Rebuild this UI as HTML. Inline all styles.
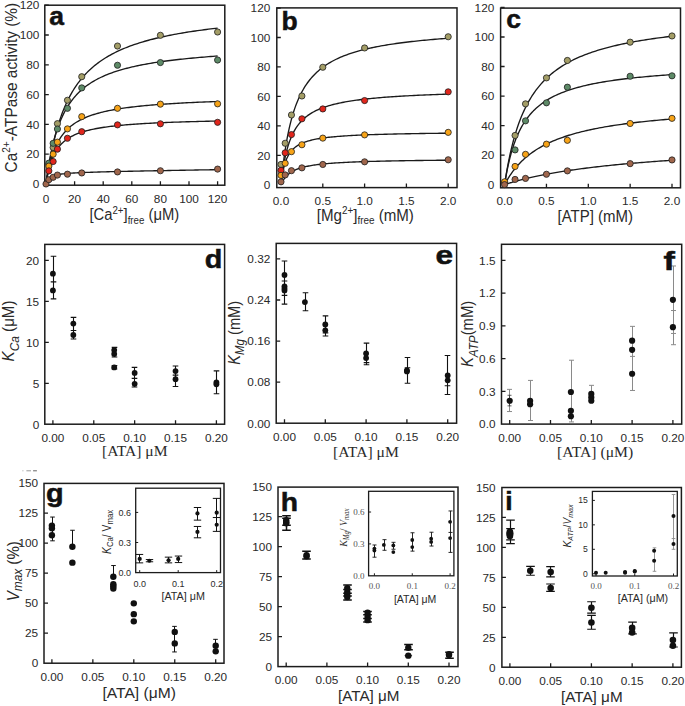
<!DOCTYPE html>
<html><head><meta charset="utf-8"><style>
html,body{margin:0;padding:0;background:#fff;}
svg{display:block;}
</style></head><body>
<svg width="685" height="706" viewBox="0 0 685 706">
<rect width="685" height="706" fill="#fff"/>
<rect x="44.8" y="5.2" width="180" height="180" fill="none" stroke="#1c1c1c" stroke-width="1.5"/>
<path d="M74.6 185.2V181.2M103.2 185.2V181.2M131.8 185.2V181.2M160.4 185.2V181.2M189 185.2V181.2M217.6 185.2V181.2M44.8 154.2H48.8M44.8 124.4H48.8M44.8 94.6H48.8M44.8 64.8H48.8M44.8 35H48.8M44.8 5.2H48.8" stroke="#1c1c1c" stroke-width="1.3" fill="none"/>
<text x="39.4" y="188.2" font-family='"Liberation Sans", sans-serif' font-size="11.8" text-anchor="end" font-weight="normal" font-style="normal" fill="#2a2a2a">0</text>
<text x="39.4" y="158.4" font-family='"Liberation Sans", sans-serif' font-size="11.8" text-anchor="end" font-weight="normal" font-style="normal" fill="#2a2a2a">20</text>
<text x="39.4" y="128.6" font-family='"Liberation Sans", sans-serif' font-size="11.8" text-anchor="end" font-weight="normal" font-style="normal" fill="#2a2a2a">40</text>
<text x="39.4" y="98.8" font-family='"Liberation Sans", sans-serif' font-size="11.8" text-anchor="end" font-weight="normal" font-style="normal" fill="#2a2a2a">60</text>
<text x="39.4" y="69" font-family='"Liberation Sans", sans-serif' font-size="11.8" text-anchor="end" font-weight="normal" font-style="normal" fill="#2a2a2a">80</text>
<text x="39.4" y="39.2" font-family='"Liberation Sans", sans-serif' font-size="11.8" text-anchor="end" font-weight="normal" font-style="normal" fill="#2a2a2a">100</text>
<text x="39.4" y="9.4" font-family='"Liberation Sans", sans-serif' font-size="11.8" text-anchor="end" font-weight="normal" font-style="normal" fill="#2a2a2a">120</text>
<text x="46" y="202.6" font-family='"Liberation Sans", sans-serif' font-size="11.8" text-anchor="middle" font-weight="normal" font-style="normal" fill="#2a2a2a">0</text>
<text x="74.6" y="202.6" font-family='"Liberation Sans", sans-serif' font-size="11.8" text-anchor="middle" font-weight="normal" font-style="normal" fill="#2a2a2a">20</text>
<text x="103.2" y="202.6" font-family='"Liberation Sans", sans-serif' font-size="11.8" text-anchor="middle" font-weight="normal" font-style="normal" fill="#2a2a2a">40</text>
<text x="131.8" y="202.6" font-family='"Liberation Sans", sans-serif' font-size="11.8" text-anchor="middle" font-weight="normal" font-style="normal" fill="#2a2a2a">60</text>
<text x="160.4" y="202.6" font-family='"Liberation Sans", sans-serif' font-size="11.8" text-anchor="middle" font-weight="normal" font-style="normal" fill="#2a2a2a">80</text>
<text x="189" y="202.6" font-family='"Liberation Sans", sans-serif' font-size="11.8" text-anchor="middle" font-weight="normal" font-style="normal" fill="#2a2a2a">100</text>
<text x="217.6" y="202.6" font-family='"Liberation Sans", sans-serif' font-size="11.8" text-anchor="middle" font-weight="normal" font-style="normal" fill="#2a2a2a">120</text>
<polyline points="46,184 46.08,183.42 46.25,182.24 46.47,180.66 46.74,178.77 47.06,176.61 47.42,174.25 47.82,171.71 48.25,169.03 48.72,166.23 49.22,163.35 49.75,160.4 50.31,157.4 50.9,154.37 51.52,151.32 52.16,148.28 52.83,145.23 53.53,142.21 54.25,139.22 54.99,136.25 55.76,133.33 56.55,130.45 57.37,127.62 58.21,124.85 59.07,122.13 59.95,119.46 60.85,116.86 61.78,114.31 62.72,111.83 63.69,109.41 64.67,107.04 65.68,104.74 66.7,102.5 67.75,100.32 68.81,98.2 69.9,96.13 71,94.12 72.12,92.17 73.26,90.27 74.41,88.43 75.59,86.64 76.78,84.9 77.99,83.2 79.22,81.56 80.46,79.96 81.72,78.41 83,76.9 84.3,75.44 85.61,74.01 86.94,72.63 88.28,71.28 89.65,69.98 91.02,68.71 92.42,67.47 93.83,66.27 95.25,65.1 96.69,63.97 98.15,62.87 99.62,61.79 101.1,60.75 102.61,59.73 104.12,58.74 105.66,57.78 107.2,56.84 108.76,55.93 110.34,55.04 111.93,54.17 113.54,53.33 115.16,52.51 116.79,51.71 118.44,50.93 120.1,50.17 121.78,49.42 123.47,48.7 125.18,48 126.9,47.31 128.63,46.64 130.37,45.98 132.13,45.34 133.91,44.72 135.7,44.11 137.5,43.52 139.31,42.94 141.14,42.37 142.98,41.82 144.83,41.27 146.7,40.75 148.58,40.23 150.47,39.72 152.38,39.23 154.3,38.75 156.23,38.27 158.17,37.81 160.13,37.36 162.1,36.92 164.08,36.49 166.08,36.06 168.08,35.65 170.1,35.24 172.14,34.85 174.18,34.46 176.24,34.08 178.31,33.7 180.39,33.34 182.48,32.98 184.59,32.63 186.71,32.29 188.84,31.95 190.98,31.62 193.13,31.29 195.3,30.98 197.48,30.66 199.67,30.36 201.87,30.06 204.08,29.77 206.3,29.48 208.54,29.19 210.79,28.92 213.05,28.64 215.32,28.38 217.6,28.11" fill="none" stroke="#1a1a1a" stroke-width="1.35" stroke-linejoin="round"/>
<polyline points="46,184 46.08,183.36 46.25,182.08 46.47,180.38 46.74,178.34 47.06,176.05 47.42,173.56 47.82,170.91 48.25,168.14 48.72,165.29 49.22,162.38 49.75,159.44 50.31,156.49 50.9,153.54 51.52,150.61 52.16,147.71 52.83,144.86 53.53,142.06 54.25,139.31 54.99,136.63 55.76,134.01 56.55,131.46 57.37,128.98 58.21,126.57 59.07,124.24 59.95,121.98 60.85,119.79 61.78,117.67 62.72,115.62 63.69,113.63 64.67,111.72 65.68,109.87 66.7,108.08 67.75,106.36 68.81,104.69 69.9,103.08 71,101.53 72.12,100.03 73.26,98.58 74.41,97.19 75.59,95.84 76.78,94.54 77.99,93.28 79.22,92.06 80.46,90.89 81.72,89.75 83,88.66 84.3,87.6 85.61,86.57 86.94,85.58 88.28,84.62 89.65,83.7 91.02,82.8 92.42,81.93 93.83,81.09 95.25,80.27 96.69,79.49 98.15,78.72 99.62,77.98 101.1,77.26 102.61,76.56 104.12,75.89 105.66,75.23 107.2,74.6 108.76,73.98 110.34,73.38 111.93,72.8 113.54,72.23 115.16,71.68 116.79,71.15 118.44,70.63 120.1,70.13 121.78,69.64 123.47,69.16 125.18,68.7 126.9,68.24 128.63,67.8 130.37,67.38 132.13,66.96 133.91,66.55 135.7,66.16 137.5,65.77 139.31,65.4 141.14,65.03 142.98,64.67 144.83,64.32 146.7,63.98 148.58,63.65 150.47,63.33 152.38,63.01 154.3,62.7 156.23,62.4 158.17,62.11 160.13,61.82 162.1,61.54 164.08,61.27 166.08,61 168.08,60.74 170.1,60.48 172.14,60.23 174.18,59.99 176.24,59.75 178.31,59.51 180.39,59.28 182.48,59.06 184.59,58.84 186.71,58.62 188.84,58.41 190.98,58.21 193.13,58.01 195.3,57.81 197.48,57.61 199.67,57.42 201.87,57.24 204.08,57.06 206.3,56.88 208.54,56.7 210.79,56.53 213.05,56.36 215.32,56.2 217.6,56.04" fill="none" stroke="#1a1a1a" stroke-width="1.35" stroke-linejoin="round"/>
<polyline points="46,184 46.08,183.47 46.25,182.4 46.47,180.99 46.74,179.33 47.06,177.47 47.42,175.47 47.82,173.36 48.25,171.2 48.72,168.99 49.22,166.77 49.75,164.55 50.31,162.35 50.9,160.18 51.52,158.06 52.16,155.99 52.83,153.97 53.53,152.01 54.25,150.11 54.99,148.28 55.76,146.51 56.55,144.81 57.37,143.17 58.21,141.59 59.07,140.08 59.95,138.63 60.85,137.24 61.78,135.9 62.72,134.62 63.69,133.39 64.67,132.21 65.68,131.08 66.7,130 67.75,128.96 68.81,127.96 69.9,127 71,126.09 72.12,125.21 73.26,124.36 74.41,123.55 75.59,122.77 76.78,122.03 77.99,121.31 79.22,120.61 80.46,119.95 81.72,119.31 83,118.69 84.3,118.1 85.61,117.53 86.94,116.98 88.28,116.45 89.65,115.94 91.02,115.45 92.42,114.97 93.83,114.51 95.25,114.07 96.69,113.64 98.15,113.23 99.62,112.83 101.1,112.45 102.61,112.07 104.12,111.71 105.66,111.36 107.2,111.02 108.76,110.7 110.34,110.38 111.93,110.07 113.54,109.77 115.16,109.48 116.79,109.2 118.44,108.93 120.1,108.67 121.78,108.41 123.47,108.16 125.18,107.92 126.9,107.69 128.63,107.46 130.37,107.24 132.13,107.02 133.91,106.81 135.7,106.61 137.5,106.41 139.31,106.22 141.14,106.03 142.98,105.85 144.83,105.67 146.7,105.49 148.58,105.32 150.47,105.16 152.38,105 154.3,104.84 156.23,104.69 158.17,104.54 160.13,104.39 162.1,104.25 164.08,104.11 166.08,103.98 168.08,103.84 170.1,103.72 172.14,103.59 174.18,103.47 176.24,103.34 178.31,103.23 180.39,103.11 182.48,103 184.59,102.89 186.71,102.78 188.84,102.68 190.98,102.57 193.13,102.47 195.3,102.37 197.48,102.28 199.67,102.18 201.87,102.09 204.08,102 206.3,101.91 208.54,101.82 210.79,101.74 213.05,101.65 215.32,101.57 217.6,101.49" fill="none" stroke="#1a1a1a" stroke-width="1.35" stroke-linejoin="round"/>
<polyline points="46,184 46.08,183.48 46.25,182.45 46.47,181.09 46.74,179.5 47.06,177.75 47.42,175.89 47.82,173.96 48.25,172 48.72,170.03 49.22,168.08 49.75,166.16 50.31,164.28 50.9,162.46 51.52,160.69 52.16,158.99 52.83,157.36 53.53,155.79 54.25,154.29 54.99,152.86 55.76,151.49 56.55,150.19 57.37,148.95 58.21,147.77 59.07,146.64 59.95,145.57 60.85,144.55 61.78,143.59 62.72,142.66 63.69,141.79 64.67,140.95 65.68,140.16 66.7,139.4 67.75,138.67 68.81,137.99 69.9,137.33 71,136.7 72.12,136.1 73.26,135.53 74.41,134.98 75.59,134.46 76.78,133.96 77.99,133.48 79.22,133.03 80.46,132.59 81.72,132.17 83,131.76 84.3,131.38 85.61,131 86.94,130.65 88.28,130.3 89.65,129.97 91.02,129.66 92.42,129.35 93.83,129.06 95.25,128.78 96.69,128.5 98.15,128.24 99.62,127.99 101.1,127.74 102.61,127.51 104.12,127.28 105.66,127.06 107.2,126.85 108.76,126.64 110.34,126.45 111.93,126.25 113.54,126.07 115.16,125.89 116.79,125.71 118.44,125.54 120.1,125.38 121.78,125.22 123.47,125.07 125.18,124.92 126.9,124.78 128.63,124.63 130.37,124.5 132.13,124.37 133.91,124.24 135.7,124.11 137.5,123.99 139.31,123.87 141.14,123.76 142.98,123.65 144.83,123.54 146.7,123.43 148.58,123.33 150.47,123.23 152.38,123.13 154.3,123.04 156.23,122.94 158.17,122.85 160.13,122.76 162.1,122.68 164.08,122.59 166.08,122.51 168.08,122.43 170.1,122.36 172.14,122.28 174.18,122.2 176.24,122.13 178.31,122.06 180.39,121.99 182.48,121.92 184.59,121.86 186.71,121.79 188.84,121.73 190.98,121.67 193.13,121.61 195.3,121.55 197.48,121.49 199.67,121.43 201.87,121.38 204.08,121.32 206.3,121.27 208.54,121.22 210.79,121.17 213.05,121.12 215.32,121.07 217.6,121.02" fill="none" stroke="#1a1a1a" stroke-width="1.35" stroke-linejoin="round"/>
<polyline points="46,184 46.08,183.74 46.25,183.23 46.47,182.61 46.74,181.94 47.06,181.25 47.42,180.59 47.82,179.95 48.25,179.36 48.72,178.81 49.22,178.3 49.75,177.84 50.31,177.42 50.9,177.03 51.52,176.68 52.16,176.36 52.83,176.07 53.53,175.8 54.25,175.56 54.99,175.33 55.76,175.12 56.55,174.93 57.37,174.75 58.21,174.59 59.07,174.44 59.95,174.29 60.85,174.16 61.78,174.04 62.72,173.92 63.69,173.81 64.67,173.7 65.68,173.6 66.7,173.51 67.75,173.42 68.81,173.34 69.9,173.26 71,173.18 72.12,173.11 73.26,173.04 74.41,172.97 75.59,172.9 76.78,172.84 77.99,172.78 79.22,172.72 80.46,172.66 81.72,172.61 83,172.55 84.3,172.5 85.61,172.45 86.94,172.4 88.28,172.35 89.65,172.3 91.02,172.25 92.42,172.21 93.83,172.16 95.25,172.12 96.69,172.07 98.15,172.03 99.62,171.99 101.1,171.94 102.61,171.9 104.12,171.86 105.66,171.82 107.2,171.78 108.76,171.74 110.34,171.7 111.93,171.66 113.54,171.62 115.16,171.59 116.79,171.55 118.44,171.51 120.1,171.47 121.78,171.43 123.47,171.39 125.18,171.36 126.9,171.32 128.63,171.28 130.37,171.25 132.13,171.21 133.91,171.17 135.7,171.13 137.5,171.1 139.31,171.06 141.14,171.02 142.98,170.99 144.83,170.95 146.7,170.91 148.58,170.88 150.47,170.84 152.38,170.8 154.3,170.77 156.23,170.73 158.17,170.69 160.13,170.66 162.1,170.62 164.08,170.58 166.08,170.55 168.08,170.51 170.1,170.47 172.14,170.44 174.18,170.4 176.24,170.36 178.31,170.33 180.39,170.29 182.48,170.25 184.59,170.21 186.71,170.18 188.84,170.14 190.98,170.1 193.13,170.06 195.3,170.03 197.48,169.99 199.67,169.95 201.87,169.91 204.08,169.87 206.3,169.83 208.54,169.8 210.79,169.76 213.05,169.72 215.32,169.68 217.6,169.64" fill="none" stroke="#1a1a1a" stroke-width="1.35" stroke-linejoin="round"/>
<circle cx="48.86" cy="164.63" r="3.1" fill="#a39d66" stroke="#1e1e1e" stroke-width="0.8"/>
<circle cx="53.15" cy="147.5" r="3.1" fill="#a39d66" stroke="#1e1e1e" stroke-width="0.8"/>
<circle cx="57.44" cy="123.66" r="3.1" fill="#a39d66" stroke="#1e1e1e" stroke-width="0.8"/>
<circle cx="67.45" cy="100.26" r="3.1" fill="#a39d66" stroke="#1e1e1e" stroke-width="0.8"/>
<circle cx="81.75" cy="76.72" r="3.1" fill="#a39d66" stroke="#1e1e1e" stroke-width="0.8"/>
<circle cx="117.5" cy="46.03" r="3.1" fill="#a39d66" stroke="#1e1e1e" stroke-width="0.8"/>
<circle cx="160.4" cy="35.3" r="3.1" fill="#a39d66" stroke="#1e1e1e" stroke-width="0.8"/>
<circle cx="217.6" cy="32.02" r="3.1" fill="#a39d66" stroke="#1e1e1e" stroke-width="0.8"/>
<circle cx="48.86" cy="163.14" r="3.1" fill="#5d8a67" stroke="#1e1e1e" stroke-width="0.8"/>
<circle cx="53.15" cy="143.32" r="3.1" fill="#5d8a67" stroke="#1e1e1e" stroke-width="0.8"/>
<circle cx="57.44" cy="129.02" r="3.1" fill="#5d8a67" stroke="#1e1e1e" stroke-width="0.8"/>
<circle cx="67.45" cy="108.31" r="3.1" fill="#5d8a67" stroke="#1e1e1e" stroke-width="0.8"/>
<circle cx="81.75" cy="87.89" r="3.1" fill="#5d8a67" stroke="#1e1e1e" stroke-width="0.8"/>
<circle cx="117.5" cy="65.25" r="3.1" fill="#5d8a67" stroke="#1e1e1e" stroke-width="0.8"/>
<circle cx="160.4" cy="62.56" r="3.1" fill="#5d8a67" stroke="#1e1e1e" stroke-width="0.8"/>
<circle cx="217.6" cy="60.03" r="3.1" fill="#5d8a67" stroke="#1e1e1e" stroke-width="0.8"/>
<circle cx="48.86" cy="166.12" r="3.1" fill="#f7a317" stroke="#1e1e1e" stroke-width="0.8"/>
<circle cx="53.15" cy="154.2" r="3.1" fill="#f7a317" stroke="#1e1e1e" stroke-width="0.8"/>
<circle cx="57.44" cy="142.13" r="3.1" fill="#f7a317" stroke="#1e1e1e" stroke-width="0.8"/>
<circle cx="67.45" cy="128.87" r="3.1" fill="#f7a317" stroke="#1e1e1e" stroke-width="0.8"/>
<circle cx="81.75" cy="116.65" r="3.1" fill="#f7a317" stroke="#1e1e1e" stroke-width="0.8"/>
<circle cx="117.5" cy="108.31" r="3.1" fill="#f7a317" stroke="#1e1e1e" stroke-width="0.8"/>
<circle cx="160.4" cy="104.14" r="3.1" fill="#f7a317" stroke="#1e1e1e" stroke-width="0.8"/>
<circle cx="217.6" cy="103.84" r="3.1" fill="#f7a317" stroke="#1e1e1e" stroke-width="0.8"/>
<circle cx="48.86" cy="170.89" r="3.1" fill="#e1261c" stroke="#1e1e1e" stroke-width="0.8"/>
<circle cx="53.15" cy="161.5" r="3.1" fill="#e1261c" stroke="#1e1e1e" stroke-width="0.8"/>
<circle cx="57.44" cy="149.13" r="3.1" fill="#e1261c" stroke="#1e1e1e" stroke-width="0.8"/>
<circle cx="67.45" cy="138.26" r="3.1" fill="#e1261c" stroke="#1e1e1e" stroke-width="0.8"/>
<circle cx="81.75" cy="131.7" r="3.1" fill="#e1261c" stroke="#1e1e1e" stroke-width="0.8"/>
<circle cx="117.5" cy="124.85" r="3.1" fill="#e1261c" stroke="#1e1e1e" stroke-width="0.8"/>
<circle cx="160.4" cy="123.8" r="3.1" fill="#e1261c" stroke="#1e1e1e" stroke-width="0.8"/>
<circle cx="217.6" cy="122.31" r="3.1" fill="#e1261c" stroke="#1e1e1e" stroke-width="0.8"/>
<circle cx="46" cy="184" r="3.1" fill="#a0664c" stroke="#1e1e1e" stroke-width="0.8"/>
<circle cx="48.86" cy="179.68" r="3.1" fill="#a0664c" stroke="#1e1e1e" stroke-width="0.8"/>
<circle cx="53.15" cy="177.29" r="3.1" fill="#a0664c" stroke="#1e1e1e" stroke-width="0.8"/>
<circle cx="57.44" cy="175.06" r="3.1" fill="#a0664c" stroke="#1e1e1e" stroke-width="0.8"/>
<circle cx="67.45" cy="174.17" r="3.1" fill="#a0664c" stroke="#1e1e1e" stroke-width="0.8"/>
<circle cx="81.75" cy="172.97" r="3.1" fill="#a0664c" stroke="#1e1e1e" stroke-width="0.8"/>
<circle cx="117.5" cy="171.93" r="3.1" fill="#a0664c" stroke="#1e1e1e" stroke-width="0.8"/>
<circle cx="160.4" cy="170.74" r="3.1" fill="#a0664c" stroke="#1e1e1e" stroke-width="0.8"/>
<circle cx="217.6" cy="169.1" r="3.1" fill="#a0664c" stroke="#1e1e1e" stroke-width="0.8"/>
<text x="49.2" y="24.8" font-family='"Liberation Sans", sans-serif' font-size="26.5" text-anchor="start" font-weight="bold" font-style="normal" fill="#111" stroke="#111" stroke-width="0.5">a</text>
<text transform="translate(16.8,172.5) rotate(-90)" font-family='"Liberation Sans", sans-serif' font-size="16" fill="#2a2a2a" textLength="169.7" lengthAdjust="spacingAndGlyphs">Ca<tspan font-size="10.5" dy="-6.5">2+</tspan><tspan dy="6.5">-ATPase activity (%)</tspan></text>
<text x="89.4" y="220.1" font-family='"Liberation Sans", sans-serif' font-size="16" fill="#2a2a2a" textLength="89.8" lengthAdjust="spacingAndGlyphs">[Ca<tspan font-size="10.5" dy="-6.5">2+</tspan><tspan dy="6.5">]</tspan><tspan font-size="10.5" dy="3.7">free</tspan><tspan dy="-3.7"> (μM)</tspan></text>
<rect x="276.8" y="7.9" width="180.2" height="179.7" fill="none" stroke="#1c1c1c" stroke-width="1.5"/>
<path d="M322.8 187.6V183.6M364.6 187.6V183.6M406.4 187.6V183.6M448.2 187.6V183.6M276.8 155.34H280.8M276.8 125.88H280.8M276.8 96.42H280.8M276.8 66.96H280.8M276.8 37.5H280.8M276.8 8.04H280.8" stroke="#1c1c1c" stroke-width="1.3" fill="none"/>
<text x="270.3" y="189" font-family='"Liberation Sans", sans-serif' font-size="11.8" text-anchor="end" font-weight="normal" font-style="normal" fill="#2a2a2a">0</text>
<text x="270.3" y="159.54" font-family='"Liberation Sans", sans-serif' font-size="11.8" text-anchor="end" font-weight="normal" font-style="normal" fill="#2a2a2a">20</text>
<text x="270.3" y="130.08" font-family='"Liberation Sans", sans-serif' font-size="11.8" text-anchor="end" font-weight="normal" font-style="normal" fill="#2a2a2a">40</text>
<text x="270.3" y="100.62" font-family='"Liberation Sans", sans-serif' font-size="11.8" text-anchor="end" font-weight="normal" font-style="normal" fill="#2a2a2a">60</text>
<text x="270.3" y="71.16" font-family='"Liberation Sans", sans-serif' font-size="11.8" text-anchor="end" font-weight="normal" font-style="normal" fill="#2a2a2a">80</text>
<text x="270.3" y="41.7" font-family='"Liberation Sans", sans-serif' font-size="11.8" text-anchor="end" font-weight="normal" font-style="normal" fill="#2a2a2a">100</text>
<text x="270.3" y="12.24" font-family='"Liberation Sans", sans-serif' font-size="11.8" text-anchor="end" font-weight="normal" font-style="normal" fill="#2a2a2a">120</text>
<text x="281" y="204.8" font-family='"Liberation Sans", sans-serif' font-size="11.8" text-anchor="middle" font-weight="normal" font-style="normal" fill="#2a2a2a">0.0</text>
<text x="322.8" y="204.8" font-family='"Liberation Sans", sans-serif' font-size="11.8" text-anchor="middle" font-weight="normal" font-style="normal" fill="#2a2a2a">0.5</text>
<text x="364.6" y="204.8" font-family='"Liberation Sans", sans-serif' font-size="11.8" text-anchor="middle" font-weight="normal" font-style="normal" fill="#2a2a2a">1.0</text>
<text x="406.4" y="204.8" font-family='"Liberation Sans", sans-serif' font-size="11.8" text-anchor="middle" font-weight="normal" font-style="normal" fill="#2a2a2a">1.5</text>
<text x="448.2" y="204.8" font-family='"Liberation Sans", sans-serif' font-size="11.8" text-anchor="middle" font-weight="normal" font-style="normal" fill="#2a2a2a">2.0</text>
<polyline points="281,184.8 281.08,183.97 281.24,182.3 281.46,180.08 281.72,177.45 282.03,174.49 282.39,171.3 282.77,167.92 283.2,164.41 283.65,160.82 284.14,157.18 284.65,153.52 285.2,149.87 285.77,146.25 286.37,142.68 287,139.16 287.65,135.73 288.33,132.37 289.03,129.1 289.76,125.92 290.51,122.84 291.28,119.85 292.08,116.97 292.89,114.18 293.73,111.49 294.59,108.89 295.47,106.39 296.37,103.98 297.29,101.66 298.23,99.42 299.19,97.27 300.17,95.21 301.17,93.21 302.19,91.3 303.23,89.46 304.28,87.68 305.36,85.98 306.45,84.33 307.56,82.75 308.69,81.23 309.83,79.77 310.99,78.36 312.17,77 313.37,75.69 314.58,74.42 315.81,73.21 317.05,72.03 318.32,70.9 319.6,69.81 320.89,68.76 322.2,67.74 323.53,66.76 324.87,65.81 326.23,64.89 327.6,64 328.99,63.15 330.39,62.32 331.81,61.52 333.24,60.74 334.69,59.99 336.16,59.26 337.63,58.56 339.13,57.88 340.63,57.21 342.16,56.57 343.69,55.95 345.24,55.35 346.81,54.76 348.38,54.2 349.98,53.64 351.58,53.11 353.2,52.59 354.84,52.08 356.49,51.59 358.15,51.12 359.82,50.65 361.51,50.2 363.21,49.76 364.93,49.33 366.65,48.92 368.4,48.51 370.15,48.12 371.92,47.74 373.7,47.36 375.49,47 377.3,46.64 379.12,46.3 380.95,45.96 382.79,45.63 384.65,45.31 386.52,45 388.4,44.69 390.3,44.39 392.2,44.1 394.12,43.82 396.05,43.54 398,43.27 399.95,43 401.92,42.75 403.9,42.49 405.9,42.25 407.9,42 409.92,41.77 411.94,41.54 413.98,41.31 416.04,41.09 418.1,40.87 420.17,40.66 422.26,40.45 424.36,40.25 426.47,40.05 428.59,39.86 430.73,39.66 432.87,39.48 435.03,39.29 437.19,39.12 439.37,38.94 441.56,38.77 443.76,38.6 445.98,38.43 448.2,38.27" fill="none" stroke="#1a1a1a" stroke-width="1.35" stroke-linejoin="round"/>
<polyline points="281,184.8 281.08,184.08 281.24,182.65 281.46,180.76 281.72,178.56 282.03,176.12 282.39,173.52 282.77,170.83 283.2,168.08 283.65,165.31 284.14,162.56 284.65,159.84 285.2,157.18 285.77,154.59 286.37,152.08 287,149.66 287.65,147.32 288.33,145.08 289.03,142.93 289.76,140.87 290.51,138.9 291.28,137.02 292.08,135.23 292.89,133.52 293.73,131.89 294.59,130.34 295.47,128.86 296.37,127.45 297.29,126.11 298.23,124.83 299.19,123.61 300.17,122.45 301.17,121.34 302.19,120.28 303.23,119.27 304.28,118.31 305.36,117.39 306.45,116.51 307.56,115.67 308.69,114.86 309.83,114.09 310.99,113.36 312.17,112.65 313.37,111.98 314.58,111.33 315.81,110.71 317.05,110.11 318.32,109.54 319.6,108.99 320.89,108.46 322.2,107.96 323.53,107.47 324.87,107 326.23,106.55 327.6,106.11 328.99,105.69 330.39,105.29 331.81,104.9 333.24,104.52 334.69,104.16 336.16,103.81 337.63,103.47 339.13,103.15 340.63,102.83 342.16,102.52 343.69,102.23 345.24,101.94 346.81,101.67 348.38,101.4 349.98,101.14 351.58,100.89 353.2,100.65 354.84,100.41 356.49,100.18 358.15,99.96 359.82,99.74 361.51,99.53 363.21,99.33 364.93,99.13 366.65,98.94 368.4,98.75 370.15,98.57 371.92,98.4 373.7,98.23 375.49,98.06 377.3,97.9 379.12,97.74 380.95,97.58 382.79,97.43 384.65,97.29 386.52,97.15 388.4,97.01 390.3,96.87 392.2,96.74 394.12,96.61 396.05,96.49 398,96.36 399.95,96.25 401.92,96.13 403.9,96.01 405.9,95.9 407.9,95.8 409.92,95.69 411.94,95.59 413.98,95.48 416.04,95.39 418.1,95.29 420.17,95.19 422.26,95.1 424.36,95.01 426.47,94.92 428.59,94.84 430.73,94.75 432.87,94.67 435.03,94.59 437.19,94.51 439.37,94.43 441.56,94.35 443.76,94.28 445.98,94.2 448.2,94.13" fill="none" stroke="#1a1a1a" stroke-width="1.35" stroke-linejoin="round"/>
<polyline points="281,184.8 281.08,184.11 281.24,182.75 281.46,181.02 281.72,179.04 282.03,176.94 282.39,174.77 282.77,172.61 283.2,170.48 283.65,168.42 284.14,166.45 284.65,164.57 285.2,162.79 285.77,161.11 286.37,159.54 287,158.07 287.65,156.69 288.33,155.4 289.03,154.19 289.76,153.07 290.51,152.02 291.28,151.04 292.08,150.12 292.89,149.26 293.73,148.46 294.59,147.71 295.47,147.01 296.37,146.35 297.29,145.73 298.23,145.14 299.19,144.59 300.17,144.08 301.17,143.59 302.19,143.13 303.23,142.7 304.28,142.29 305.36,141.9 306.45,141.53 307.56,141.19 308.69,140.86 309.83,140.54 310.99,140.25 312.17,139.96 313.37,139.69 314.58,139.44 315.81,139.19 317.05,138.96 318.32,138.74 319.6,138.53 320.89,138.32 322.2,138.13 323.53,137.94 324.87,137.77 326.23,137.6 327.6,137.43 328.99,137.27 330.39,137.12 331.81,136.98 333.24,136.84 334.69,136.71 336.16,136.58 337.63,136.45 339.13,136.33 340.63,136.22 342.16,136.11 343.69,136 345.24,135.9 346.81,135.8 348.38,135.7 349.98,135.61 351.58,135.52 353.2,135.43 354.84,135.35 356.49,135.27 358.15,135.19 359.82,135.11 361.51,135.04 363.21,134.97 364.93,134.9 366.65,134.83 368.4,134.77 370.15,134.7 371.92,134.64 373.7,134.58 375.49,134.52 377.3,134.47 379.12,134.41 380.95,134.36 382.79,134.31 384.65,134.26 386.52,134.21 388.4,134.16 390.3,134.11 392.2,134.07 394.12,134.02 396.05,133.98 398,133.94 399.95,133.9 401.92,133.86 403.9,133.82 405.9,133.78 407.9,133.75 409.92,133.71 411.94,133.67 413.98,133.64 416.04,133.61 418.1,133.57 420.17,133.54 422.26,133.51 424.36,133.48 426.47,133.45 428.59,133.42 430.73,133.39 432.87,133.36 435.03,133.34 437.19,133.31 439.37,133.28 441.56,133.26 443.76,133.23 445.98,133.21 448.2,133.18" fill="none" stroke="#1a1a1a" stroke-width="1.35" stroke-linejoin="round"/>
<polyline points="281,184.8 281.08,184.61 281.24,184.24 281.46,183.75 281.72,183.17 282.03,182.53 282.39,181.85 282.77,181.14 283.2,180.41 283.65,179.68 284.14,178.95 284.65,178.23 285.2,177.52 285.77,176.83 286.37,176.16 287,175.5 287.65,174.88 288.33,174.27 289.03,173.69 289.76,173.13 290.51,172.6 291.28,172.09 292.08,171.6 292.89,171.13 293.73,170.69 294.59,170.27 295.47,169.86 296.37,169.47 297.29,169.11 298.23,168.75 299.19,168.42 300.17,168.1 301.17,167.79 302.19,167.5 303.23,167.22 304.28,166.95 305.36,166.7 306.45,166.46 307.56,166.22 308.69,166 309.83,165.79 310.99,165.58 312.17,165.39 313.37,165.2 314.58,165.02 315.81,164.84 317.05,164.68 318.32,164.52 319.6,164.37 320.89,164.22 322.2,164.08 323.53,163.94 324.87,163.81 326.23,163.68 327.6,163.56 328.99,163.44 330.39,163.33 331.81,163.22 333.24,163.12 334.69,163.01 336.16,162.92 337.63,162.82 339.13,162.73 340.63,162.64 342.16,162.56 343.69,162.47 345.24,162.39 346.81,162.31 348.38,162.24 349.98,162.17 351.58,162.1 353.2,162.03 354.84,161.96 356.49,161.9 358.15,161.83 359.82,161.77 361.51,161.71 363.21,161.66 364.93,161.6 366.65,161.55 368.4,161.49 370.15,161.44 371.92,161.39 373.7,161.35 375.49,161.3 377.3,161.25 379.12,161.21 380.95,161.16 382.79,161.12 384.65,161.08 386.52,161.04 388.4,161 390.3,160.96 392.2,160.93 394.12,160.89 396.05,160.85 398,160.82 399.95,160.79 401.92,160.75 403.9,160.72 405.9,160.69 407.9,160.66 409.92,160.63 411.94,160.6 413.98,160.57 416.04,160.54 418.1,160.52 420.17,160.49 422.26,160.46 424.36,160.44 426.47,160.41 428.59,160.39 430.73,160.36 432.87,160.34 435.03,160.32 437.19,160.29 439.37,160.27 441.56,160.25 443.76,160.23 445.98,160.21 448.2,160.19" fill="none" stroke="#1a1a1a" stroke-width="1.35" stroke-linejoin="round"/>
<circle cx="281" cy="164.47" r="3.1" fill="#a39d66" stroke="#1e1e1e" stroke-width="0.8"/>
<circle cx="285.18" cy="143.26" r="3.1" fill="#a39d66" stroke="#1e1e1e" stroke-width="0.8"/>
<circle cx="291.45" cy="114.98" r="3.1" fill="#a39d66" stroke="#1e1e1e" stroke-width="0.8"/>
<circle cx="301.9" cy="95.98" r="3.1" fill="#a39d66" stroke="#1e1e1e" stroke-width="0.8"/>
<circle cx="322.8" cy="67.25" r="3.1" fill="#a39d66" stroke="#1e1e1e" stroke-width="0.8"/>
<circle cx="364.6" cy="47.96" r="3.1" fill="#a39d66" stroke="#1e1e1e" stroke-width="0.8"/>
<circle cx="448.2" cy="36.76" r="3.1" fill="#a39d66" stroke="#1e1e1e" stroke-width="0.8"/>
<circle cx="281" cy="170.36" r="3.1" fill="#e1261c" stroke="#1e1e1e" stroke-width="0.8"/>
<circle cx="285.18" cy="152.84" r="3.1" fill="#e1261c" stroke="#1e1e1e" stroke-width="0.8"/>
<circle cx="291.45" cy="134.57" r="3.1" fill="#e1261c" stroke="#1e1e1e" stroke-width="0.8"/>
<circle cx="301.9" cy="118.81" r="3.1" fill="#e1261c" stroke="#1e1e1e" stroke-width="0.8"/>
<circle cx="322.8" cy="108.94" r="3.1" fill="#e1261c" stroke="#1e1e1e" stroke-width="0.8"/>
<circle cx="364.6" cy="100.54" r="3.1" fill="#e1261c" stroke="#1e1e1e" stroke-width="0.8"/>
<circle cx="448.2" cy="91.85" r="3.1" fill="#e1261c" stroke="#1e1e1e" stroke-width="0.8"/>
<circle cx="281" cy="175.37" r="3.1" fill="#f7a317" stroke="#1e1e1e" stroke-width="0.8"/>
<circle cx="285.18" cy="163.29" r="3.1" fill="#f7a317" stroke="#1e1e1e" stroke-width="0.8"/>
<circle cx="291.45" cy="151.66" r="3.1" fill="#f7a317" stroke="#1e1e1e" stroke-width="0.8"/>
<circle cx="301.9" cy="144.73" r="3.1" fill="#f7a317" stroke="#1e1e1e" stroke-width="0.8"/>
<circle cx="322.8" cy="138.11" r="3.1" fill="#f7a317" stroke="#1e1e1e" stroke-width="0.8"/>
<circle cx="364.6" cy="134.87" r="3.1" fill="#f7a317" stroke="#1e1e1e" stroke-width="0.8"/>
<circle cx="448.2" cy="132.36" r="3.1" fill="#f7a317" stroke="#1e1e1e" stroke-width="0.8"/>
<circle cx="281" cy="181.85" r="3.1" fill="#a0664c" stroke="#1e1e1e" stroke-width="0.8"/>
<circle cx="285.18" cy="174.93" r="3.1" fill="#a0664c" stroke="#1e1e1e" stroke-width="0.8"/>
<circle cx="291.45" cy="170.66" r="3.1" fill="#a0664c" stroke="#1e1e1e" stroke-width="0.8"/>
<circle cx="301.9" cy="167.86" r="3.1" fill="#a0664c" stroke="#1e1e1e" stroke-width="0.8"/>
<circle cx="322.8" cy="164.47" r="3.1" fill="#a0664c" stroke="#1e1e1e" stroke-width="0.8"/>
<circle cx="364.6" cy="161.82" r="3.1" fill="#a0664c" stroke="#1e1e1e" stroke-width="0.8"/>
<circle cx="448.2" cy="159.76" r="3.1" fill="#a0664c" stroke="#1e1e1e" stroke-width="0.8"/>
<text x="281.5" y="29.8" font-family='"Liberation Sans", sans-serif' font-size="26.5" text-anchor="start" font-weight="bold" font-style="normal" fill="#111" stroke="#111" stroke-width="0.5">b</text>
<text x="316.7" y="220.7" font-family='"Liberation Sans", sans-serif' font-size="16" fill="#2a2a2a" textLength="97.2" lengthAdjust="spacingAndGlyphs">[Mg<tspan font-size="10.5" dy="-6.5">2+</tspan><tspan dy="6.5">]</tspan><tspan font-size="10.5" dy="3.7">free</tspan><tspan dy="-3.7"> (mM)</tspan></text>
<rect x="500.6" y="8.1" width="179.9" height="179.7" fill="none" stroke="#1c1c1c" stroke-width="1.5"/>
<path d="M546.45 187.8V183.8M588.3 187.8V183.8M630.15 187.8V183.8M672 187.8V183.8M500.6 155.08H504.6M500.6 125.56H504.6M500.6 96.04H504.6M500.6 66.52H504.6M500.6 37H504.6M500.6 7.48H504.6" stroke="#1c1c1c" stroke-width="1.3" fill="none"/>
<text x="494.3" y="188.8" font-family='"Liberation Sans", sans-serif' font-size="11.8" text-anchor="end" font-weight="normal" font-style="normal" fill="#2a2a2a">0</text>
<text x="494.3" y="159.28" font-family='"Liberation Sans", sans-serif' font-size="11.8" text-anchor="end" font-weight="normal" font-style="normal" fill="#2a2a2a">20</text>
<text x="494.3" y="129.76" font-family='"Liberation Sans", sans-serif' font-size="11.8" text-anchor="end" font-weight="normal" font-style="normal" fill="#2a2a2a">40</text>
<text x="494.3" y="100.24" font-family='"Liberation Sans", sans-serif' font-size="11.8" text-anchor="end" font-weight="normal" font-style="normal" fill="#2a2a2a">60</text>
<text x="494.3" y="70.72" font-family='"Liberation Sans", sans-serif' font-size="11.8" text-anchor="end" font-weight="normal" font-style="normal" fill="#2a2a2a">80</text>
<text x="494.3" y="41.2" font-family='"Liberation Sans", sans-serif' font-size="11.8" text-anchor="end" font-weight="normal" font-style="normal" fill="#2a2a2a">100</text>
<text x="494.3" y="11.68" font-family='"Liberation Sans", sans-serif' font-size="11.8" text-anchor="end" font-weight="normal" font-style="normal" fill="#2a2a2a">120</text>
<text x="504.6" y="204.8" font-family='"Liberation Sans", sans-serif' font-size="11.8" text-anchor="middle" font-weight="normal" font-style="normal" fill="#2a2a2a">0.0</text>
<text x="546.45" y="204.8" font-family='"Liberation Sans", sans-serif' font-size="11.8" text-anchor="middle" font-weight="normal" font-style="normal" fill="#2a2a2a">0.5</text>
<text x="588.3" y="204.8" font-family='"Liberation Sans", sans-serif' font-size="11.8" text-anchor="middle" font-weight="normal" font-style="normal" fill="#2a2a2a">1.0</text>
<text x="630.15" y="204.8" font-family='"Liberation Sans", sans-serif' font-size="11.8" text-anchor="middle" font-weight="normal" font-style="normal" fill="#2a2a2a">1.5</text>
<text x="672" y="204.8" font-family='"Liberation Sans", sans-serif' font-size="11.8" text-anchor="middle" font-weight="normal" font-style="normal" fill="#2a2a2a">2.0</text>
<polyline points="504.6,184.6 504.68,184.07 504.84,183.01 505.06,181.58 505.33,179.86 505.64,177.91 505.99,175.76 506.38,173.45 506.8,171.01 507.25,168.46 507.74,165.82 508.26,163.11 508.8,160.36 509.38,157.57 509.98,154.76 510.61,151.95 511.26,149.13 511.94,146.33 512.64,143.54 513.37,140.78 514.12,138.06 514.89,135.37 515.69,132.72 516.51,130.11 517.35,127.55 518.21,125.04 519.09,122.59 519.99,120.18 520.91,117.83 521.85,115.53 522.82,113.29 523.8,111.1 524.8,108.96 525.82,106.88 526.86,104.85 527.91,102.88 528.99,100.95 530.08,99.08 531.19,97.26 532.32,95.48 533.46,93.76 534.63,92.08 535.81,90.45 537.01,88.86 538.22,87.31 539.45,85.81 540.7,84.35 541.96,82.92 543.24,81.54 544.54,80.2 545.85,78.89 547.18,77.62 548.52,76.38 549.88,75.17 551.25,74 552.64,72.86 554.05,71.75 555.47,70.67 556.91,69.62 558.36,68.59 559.82,67.59 561.3,66.62 562.8,65.68 564.3,64.75 565.83,63.86 567.37,62.98 568.92,62.13 570.48,61.3 572.07,60.49 573.66,59.7 575.27,58.93 576.89,58.18 578.53,57.45 580.18,56.73 581.84,56.03 583.52,55.35 585.21,54.69 586.91,54.04 588.63,53.41 590.36,52.79 592.1,52.19 593.86,51.6 595.63,51.02 597.41,50.46 599.2,49.91 601.01,49.37 602.83,48.84 604.67,48.33 606.51,47.83 608.37,47.34 610.25,46.86 612.13,46.38 614.03,45.92 615.94,45.47 617.86,45.03 619.79,44.6 621.74,44.18 623.7,43.77 625.67,43.36 627.65,42.97 629.64,42.58 631.65,42.2 633.67,41.83 635.7,41.46 637.74,41.1 639.8,40.75 641.86,40.41 643.94,40.07 646.03,39.74 648.13,39.42 650.24,39.1 652.37,38.79 654.5,38.48 656.65,38.18 658.81,37.89 660.98,37.6 663.16,37.31 665.35,37.04 667.56,36.76 669.77,36.49 672,36.23" fill="none" stroke="#1a1a1a" stroke-width="1.35" stroke-linejoin="round"/>
<polyline points="504.6,184.6 504.68,184.1 504.84,183.08 505.06,181.73 505.33,180.12 505.64,178.29 505.99,176.3 506.38,174.17 506.8,171.95 507.25,169.64 507.74,167.29 508.26,164.89 508.8,162.48 509.38,160.06 509.98,157.65 510.61,155.26 511.26,152.9 511.94,150.56 512.64,148.27 513.37,146.02 514.12,143.82 514.89,141.67 515.69,139.57 516.51,137.53 517.35,135.54 518.21,133.61 519.09,131.73 519.99,129.91 520.91,128.14 521.85,126.43 522.82,124.77 523.8,123.16 524.8,121.61 525.82,120.1 526.86,118.65 527.91,117.24 528.99,115.87 530.08,114.55 531.19,113.28 532.32,112.04 533.46,110.85 534.63,109.7 535.81,108.58 537.01,107.5 538.22,106.45 539.45,105.44 540.7,104.46 541.96,103.51 543.24,102.59 544.54,101.7 545.85,100.84 547.18,100.01 548.52,99.2 549.88,98.42 551.25,97.66 552.64,96.92 554.05,96.21 555.47,95.51 556.91,94.84 558.36,94.19 559.82,93.56 561.3,92.94 562.8,92.34 564.3,91.77 565.83,91.2 567.37,90.66 568.92,90.12 570.48,89.61 572.07,89.1 573.66,88.62 575.27,88.14 576.89,87.68 578.53,87.23 580.18,86.79 581.84,86.36 583.52,85.95 585.21,85.54 586.91,85.15 588.63,84.77 590.36,84.39 592.1,84.03 593.86,83.67 595.63,83.32 597.41,82.99 599.2,82.66 601.01,82.33 602.83,82.02 604.67,81.71 606.51,81.41 608.37,81.12 610.25,80.84 612.13,80.56 614.03,80.28 615.94,80.02 617.86,79.76 619.79,79.5 621.74,79.25 623.7,79.01 625.67,78.77 627.65,78.54 629.64,78.31 631.65,78.09 633.67,77.87 635.7,77.66 637.74,77.45 639.8,77.25 641.86,77.05 643.94,76.85 646.03,76.66 648.13,76.47 650.24,76.28 652.37,76.1 654.5,75.93 656.65,75.75 658.81,75.58 660.98,75.42 663.16,75.25 665.35,75.09 667.56,74.93 669.77,74.78 672,74.63" fill="none" stroke="#1a1a1a" stroke-width="1.35" stroke-linejoin="round"/>
<polyline points="504.6,184.6 504.68,184.45 504.84,184.15 505.06,183.74 505.33,183.24 505.64,182.67 505.99,182.04 506.38,181.36 506.8,180.62 507.25,179.84 507.74,179.03 508.26,178.18 508.8,177.31 509.38,176.41 509.98,175.49 510.61,174.56 511.26,173.61 511.94,172.65 512.64,171.68 513.37,170.71 514.12,169.74 514.89,168.76 515.69,167.79 516.51,166.82 517.35,165.85 518.21,164.88 519.09,163.93 519.99,162.98 520.91,162.04 521.85,161.1 522.82,160.18 523.8,159.27 524.8,158.37 525.82,157.48 526.86,156.6 527.91,155.73 528.99,154.88 530.08,154.04 531.19,153.22 532.32,152.4 533.46,151.6 534.63,150.82 535.81,150.04 537.01,149.28 538.22,148.54 539.45,147.81 540.7,147.09 541.96,146.38 543.24,145.69 544.54,145.01 545.85,144.34 547.18,143.69 548.52,143.04 549.88,142.42 551.25,141.8 552.64,141.19 554.05,140.6 555.47,140.02 556.91,139.45 558.36,138.89 559.82,138.34 561.3,137.8 562.8,137.27 564.3,136.76 565.83,136.25 567.37,135.75 568.92,135.26 570.48,134.79 572.07,134.32 573.66,133.86 575.27,133.41 576.89,132.97 578.53,132.54 580.18,132.11 581.84,131.7 583.52,131.29 585.21,130.89 586.91,130.5 588.63,130.11 590.36,129.74 592.1,129.37 593.86,129 595.63,128.65 597.41,128.3 599.2,127.95 601.01,127.62 602.83,127.29 604.67,126.96 606.51,126.65 608.37,126.33 610.25,126.03 612.13,125.73 614.03,125.43 615.94,125.14 617.86,124.86 619.79,124.58 621.74,124.3 623.7,124.03 625.67,123.77 627.65,123.51 629.64,123.26 631.65,123 633.67,122.76 635.7,122.52 637.74,122.28 639.8,122.04 641.86,121.81 643.94,121.59 646.03,121.37 648.13,121.15 650.24,120.93 652.37,120.72 654.5,120.51 656.65,120.31 658.81,120.11 660.98,119.91 663.16,119.72 665.35,119.53 667.56,119.34 669.77,119.16 672,118.97" fill="none" stroke="#1a1a1a" stroke-width="1.35" stroke-linejoin="round"/>
<polyline points="504.6,184.6 504.68,184.57 504.84,184.52 505.06,184.45 505.33,184.37 505.64,184.27 505.99,184.16 506.38,184.04 506.8,183.9 507.25,183.76 507.74,183.61 508.26,183.45 508.8,183.29 509.38,183.12 509.98,182.94 510.61,182.75 511.26,182.56 511.94,182.36 512.64,182.16 513.37,181.95 514.12,181.74 514.89,181.52 515.69,181.3 516.51,181.08 517.35,180.85 518.21,180.62 519.09,180.39 519.99,180.15 520.91,179.91 521.85,179.67 522.82,179.43 523.8,179.18 524.8,178.94 525.82,178.69 526.86,178.44 527.91,178.19 528.99,177.94 530.08,177.69 531.19,177.43 532.32,177.18 533.46,176.93 534.63,176.67 535.81,176.42 537.01,176.16 538.22,175.91 539.45,175.66 540.7,175.4 541.96,175.15 543.24,174.9 544.54,174.64 545.85,174.39 547.18,174.14 548.52,173.89 549.88,173.64 551.25,173.39 552.64,173.14 554.05,172.9 555.47,172.65 556.91,172.41 558.36,172.16 559.82,171.92 561.3,171.68 562.8,171.44 564.3,171.2 565.83,170.96 567.37,170.73 568.92,170.5 570.48,170.26 572.07,170.03 573.66,169.8 575.27,169.57 576.89,169.35 578.53,169.12 580.18,168.9 581.84,168.68 583.52,168.46 585.21,168.24 586.91,168.02 588.63,167.81 590.36,167.59 592.1,167.38 593.86,167.17 595.63,166.96 597.41,166.76 599.2,166.55 601.01,166.35 602.83,166.15 604.67,165.95 606.51,165.75 608.37,165.55 610.25,165.36 612.13,165.16 614.03,164.97 615.94,164.78 617.86,164.6 619.79,164.41 621.74,164.22 623.7,164.04 625.67,163.86 627.65,163.68 629.64,163.5 631.65,163.33 633.67,163.15 635.7,162.98 637.74,162.81 639.8,162.64 641.86,162.47 643.94,162.3 646.03,162.14 648.13,161.97 650.24,161.81 652.37,161.65 654.5,161.49 656.65,161.33 658.81,161.18 660.98,161.02 663.16,160.87 665.35,160.72 667.56,160.57 669.77,160.42 672,160.27" fill="none" stroke="#1a1a1a" stroke-width="1.35" stroke-linejoin="round"/>
<circle cx="504.6" cy="182.53" r="3.1" fill="#a39d66" stroke="#1e1e1e" stroke-width="0.8"/>
<circle cx="515.06" cy="135.45" r="3.1" fill="#a39d66" stroke="#1e1e1e" stroke-width="0.8"/>
<circle cx="525.52" cy="103.86" r="3.1" fill="#a39d66" stroke="#1e1e1e" stroke-width="0.8"/>
<circle cx="546.45" cy="77.89" r="3.1" fill="#a39d66" stroke="#1e1e1e" stroke-width="0.8"/>
<circle cx="567.38" cy="60.47" r="3.1" fill="#a39d66" stroke="#1e1e1e" stroke-width="0.8"/>
<circle cx="630.15" cy="42.17" r="3.1" fill="#a39d66" stroke="#1e1e1e" stroke-width="0.8"/>
<circle cx="672" cy="35.97" r="3.1" fill="#a39d66" stroke="#1e1e1e" stroke-width="0.8"/>
<circle cx="515.06" cy="149.91" r="3.1" fill="#5d8a67" stroke="#1e1e1e" stroke-width="0.8"/>
<circle cx="525.52" cy="120.84" r="3.1" fill="#5d8a67" stroke="#1e1e1e" stroke-width="0.8"/>
<circle cx="546.45" cy="102.83" r="3.1" fill="#5d8a67" stroke="#1e1e1e" stroke-width="0.8"/>
<circle cx="567.38" cy="87.18" r="3.1" fill="#5d8a67" stroke="#1e1e1e" stroke-width="0.8"/>
<circle cx="630.15" cy="76.26" r="3.1" fill="#5d8a67" stroke="#1e1e1e" stroke-width="0.8"/>
<circle cx="672" cy="75.82" r="3.1" fill="#5d8a67" stroke="#1e1e1e" stroke-width="0.8"/>
<circle cx="504.6" cy="181.8" r="3.1" fill="#f7a317" stroke="#1e1e1e" stroke-width="0.8"/>
<circle cx="515.06" cy="166.45" r="3.1" fill="#f7a317" stroke="#1e1e1e" stroke-width="0.8"/>
<circle cx="525.52" cy="154.34" r="3.1" fill="#f7a317" stroke="#1e1e1e" stroke-width="0.8"/>
<circle cx="546.45" cy="144.16" r="3.1" fill="#f7a317" stroke="#1e1e1e" stroke-width="0.8"/>
<circle cx="567.38" cy="140.32" r="3.1" fill="#f7a317" stroke="#1e1e1e" stroke-width="0.8"/>
<circle cx="630.15" cy="123.49" r="3.1" fill="#f7a317" stroke="#1e1e1e" stroke-width="0.8"/>
<circle cx="672" cy="118.33" r="3.1" fill="#f7a317" stroke="#1e1e1e" stroke-width="0.8"/>
<circle cx="504.6" cy="184.6" r="3.1" fill="#a0664c" stroke="#1e1e1e" stroke-width="0.8"/>
<circle cx="515.06" cy="179.43" r="3.1" fill="#a0664c" stroke="#1e1e1e" stroke-width="0.8"/>
<circle cx="525.52" cy="178.4" r="3.1" fill="#a0664c" stroke="#1e1e1e" stroke-width="0.8"/>
<circle cx="546.45" cy="174.27" r="3.1" fill="#a0664c" stroke="#1e1e1e" stroke-width="0.8"/>
<circle cx="567.38" cy="170.87" r="3.1" fill="#a0664c" stroke="#1e1e1e" stroke-width="0.8"/>
<circle cx="630.15" cy="163.64" r="3.1" fill="#a0664c" stroke="#1e1e1e" stroke-width="0.8"/>
<circle cx="672" cy="159.95" r="3.1" fill="#a0664c" stroke="#1e1e1e" stroke-width="0.8"/>
<text x="506.2" y="28.3" font-family='"Liberation Sans", sans-serif' font-size="26.5" text-anchor="start" font-weight="bold" font-style="normal" fill="#111" stroke="#111" stroke-width="0.5">c</text>
<text x="557.5" y="221.9" font-family='"Liberation Sans", sans-serif' font-size="16" fill="#2a2a2a" textLength="75.5" lengthAdjust="spacingAndGlyphs">[ATP] (mM)</text>
<rect x="44.8" y="244.4" width="179.8" height="179.8" fill="none" stroke="#1c1c1c" stroke-width="1.5"/>
<path d="M52.9 424.2V420.2M93.78 424.2V420.2M134.65 424.2V420.2M175.53 424.2V420.2M216.4 424.2V420.2M44.8 383.3H48.8M44.8 342.3H48.8M44.8 301.3H48.8M44.8 260.3H48.8" stroke="#1c1c1c" stroke-width="1.3" fill="none"/>
<text x="39.2" y="428.5" font-family='"Liberation Sans", sans-serif' font-size="11.8" text-anchor="end" font-weight="normal" font-style="normal" fill="#2a2a2a">0</text>
<text x="39.2" y="387.5" font-family='"Liberation Sans", sans-serif' font-size="11.8" text-anchor="end" font-weight="normal" font-style="normal" fill="#2a2a2a">5</text>
<text x="39.2" y="346.5" font-family='"Liberation Sans", sans-serif' font-size="11.8" text-anchor="end" font-weight="normal" font-style="normal" fill="#2a2a2a">10</text>
<text x="39.2" y="305.5" font-family='"Liberation Sans", sans-serif' font-size="11.8" text-anchor="end" font-weight="normal" font-style="normal" fill="#2a2a2a">15</text>
<text x="39.2" y="264.5" font-family='"Liberation Sans", sans-serif' font-size="11.8" text-anchor="end" font-weight="normal" font-style="normal" fill="#2a2a2a">20</text>
<text x="52.9" y="441.6" font-family='"Liberation Sans", sans-serif' font-size="11.8" text-anchor="middle" font-weight="normal" font-style="normal" fill="#2a2a2a">0.00</text>
<text x="93.78" y="441.6" font-family='"Liberation Sans", sans-serif' font-size="11.8" text-anchor="middle" font-weight="normal" font-style="normal" fill="#2a2a2a">0.05</text>
<text x="134.65" y="441.6" font-family='"Liberation Sans", sans-serif' font-size="11.8" text-anchor="middle" font-weight="normal" font-style="normal" fill="#2a2a2a">0.10</text>
<text x="175.53" y="441.6" font-family='"Liberation Sans", sans-serif' font-size="11.8" text-anchor="middle" font-weight="normal" font-style="normal" fill="#2a2a2a">0.15</text>
<text x="216.4" y="441.6" font-family='"Liberation Sans", sans-serif' font-size="11.8" text-anchor="middle" font-weight="normal" font-style="normal" fill="#2a2a2a">0.20</text>
<path d="M53.5 298.84V256.2M50.7 298.84H56.3M50.7 256.2H56.3M50.7 281.87H56.3" stroke="#111" stroke-width="1.1" fill="none"/>
<path d="M73.5 339.02V317.37M70.7 339.02H76.3M70.7 317.37H76.3M70.7 330.49H76.3" stroke="#111" stroke-width="1.1" fill="none"/>
<path d="M114.5 357.06V347.38M111.7 357.06H117.3M111.7 347.38H117.3" stroke="#111" stroke-width="1.1" fill="none"/>
<path d="M114.5 368.95V365.67M111.7 368.95H117.3M111.7 365.67H117.3" stroke="#111" stroke-width="1.1" fill="none"/>
<path d="M134.5 387.07V367.39M131.7 387.07H137.3M131.7 367.39H137.3M131.7 378.38H137.3" stroke="#111" stroke-width="1.1" fill="none"/>
<path d="M175.5 386.5V366M172.7 386.5H178.3M172.7 366H178.3M172.7 375.1H178.3" stroke="#111" stroke-width="1.1" fill="none"/>
<path d="M216.5 393.8V370.92M213.7 393.8H219.3M213.7 370.92H219.3" stroke="#111" stroke-width="1.1" fill="none"/>
<circle cx="52.9" cy="273.67" r="2.9" fill="#111"/>
<circle cx="52.9" cy="290.39" r="2.9" fill="#111"/>
<circle cx="73.34" cy="323.6" r="2.9" fill="#111"/>
<circle cx="73.34" cy="335" r="2.9" fill="#111"/>
<circle cx="114.21" cy="350.09" r="2.9" fill="#111"/>
<circle cx="114.21" cy="353.94" r="2.9" fill="#111"/>
<circle cx="114.21" cy="367.39" r="2.9" fill="#111"/>
<circle cx="134.65" cy="372.97" r="2.9" fill="#111"/>
<circle cx="134.65" cy="383.79" r="2.9" fill="#111"/>
<circle cx="175.53" cy="371.08" r="2.9" fill="#111"/>
<circle cx="175.53" cy="379.2" r="2.9" fill="#111"/>
<circle cx="216.4" cy="382.48" r="2.9" fill="#111"/>
<circle cx="216.4" cy="384.37" r="2.9" fill="#111"/>
<text x="204.8" y="267.7" font-family='"Liberation Sans", sans-serif' font-size="26.5" text-anchor="start" font-weight="bold" font-style="normal" fill="#111" textLength="17.6" lengthAdjust="spacingAndGlyphs" stroke="#111" stroke-width="0.5">d</text>
<text x="102" y="456.4" font-family='"Liberation Serif", serif' font-size="14.5" fill="#2a2a2a" textLength="65.6" lengthAdjust="spacingAndGlyphs">[ATA] μM</text>
<text transform="translate(14.2,361.4) rotate(-90)" font-family='"Liberation Sans", sans-serif' font-size="16.5" fill="#2a2a2a" textLength="60.9" lengthAdjust="spacingAndGlyphs"><tspan font-style="italic">K</tspan><tspan font-style="italic" font-size="13" dy="4.6">Ca</tspan><tspan dy="-4.6"> (μM)</tspan></text>
<rect x="276.2" y="243.4" width="180.4" height="179.8" fill="none" stroke="#1c1c1c" stroke-width="1.5"/>
<path d="M284.5 423.2V419.2M325.3 423.2V419.2M366.1 423.2V419.2M406.9 423.2V419.2M447.7 423.2V419.2M276.2 382.2H280.2M276.2 341.09H280.2M276.2 299.99H280.2M276.2 258.88H280.2" stroke="#1c1c1c" stroke-width="1.3" fill="none"/>
<text x="270.3" y="427.5" font-family='"Liberation Sans", sans-serif' font-size="11.8" text-anchor="end" font-weight="normal" font-style="normal" fill="#2a2a2a">0.00</text>
<text x="270.3" y="386.4" font-family='"Liberation Sans", sans-serif' font-size="11.8" text-anchor="end" font-weight="normal" font-style="normal" fill="#2a2a2a">0.08</text>
<text x="270.3" y="345.29" font-family='"Liberation Sans", sans-serif' font-size="11.8" text-anchor="end" font-weight="normal" font-style="normal" fill="#2a2a2a">0.16</text>
<text x="270.3" y="304.19" font-family='"Liberation Sans", sans-serif' font-size="11.8" text-anchor="end" font-weight="normal" font-style="normal" fill="#2a2a2a">0.24</text>
<text x="270.3" y="263.08" font-family='"Liberation Sans", sans-serif' font-size="11.8" text-anchor="end" font-weight="normal" font-style="normal" fill="#2a2a2a">0.32</text>
<text x="284.5" y="440.6" font-family='"Liberation Sans", sans-serif' font-size="11.8" text-anchor="middle" font-weight="normal" font-style="normal" fill="#2a2a2a">0.00</text>
<text x="325.3" y="440.6" font-family='"Liberation Sans", sans-serif' font-size="11.8" text-anchor="middle" font-weight="normal" font-style="normal" fill="#2a2a2a">0.05</text>
<text x="366.1" y="440.6" font-family='"Liberation Sans", sans-serif' font-size="11.8" text-anchor="middle" font-weight="normal" font-style="normal" fill="#2a2a2a">0.10</text>
<text x="406.9" y="440.6" font-family='"Liberation Sans", sans-serif' font-size="11.8" text-anchor="middle" font-weight="normal" font-style="normal" fill="#2a2a2a">0.15</text>
<text x="447.7" y="440.6" font-family='"Liberation Sans", sans-serif' font-size="11.8" text-anchor="middle" font-weight="normal" font-style="normal" fill="#2a2a2a">0.20</text>
<path d="M284.5 304.1V260.94M281.7 304.1H287.3M281.7 260.94H287.3M281.7 281.03H287.3M281.7 295.36H287.3" stroke="#111" stroke-width="1.1" fill="none"/>
<path d="M305.5 310.78V292.79M302.7 310.78H308.3M302.7 292.79H308.3" stroke="#111" stroke-width="1.1" fill="none"/>
<path d="M325.5 335.95V315.92M322.7 335.95H328.3M322.7 315.92H328.3M322.7 332.87H328.3" stroke="#111" stroke-width="1.1" fill="none"/>
<path d="M366.5 364.73V343.15M363.7 364.73H369.3M363.7 343.15H369.3M363.7 362.67H369.3" stroke="#111" stroke-width="1.1" fill="none"/>
<path d="M407.5 383.22V357.53M404.7 383.22H410.3M404.7 357.53H410.3M404.7 367.81H410.3" stroke="#111" stroke-width="1.1" fill="none"/>
<path d="M447.5 394.53V355.48M444.7 394.53H450.3M444.7 355.48H450.3M444.7 385.79H450.3" stroke="#111" stroke-width="1.1" fill="none"/>
<circle cx="284.5" cy="275.02" r="2.9" fill="#111"/>
<circle cx="284.5" cy="286.32" r="2.9" fill="#111"/>
<circle cx="284.5" cy="288.48" r="2.9" fill="#111"/>
<circle cx="284.5" cy="290.38" r="2.9" fill="#111"/>
<circle cx="304.9" cy="302.04" r="2.9" fill="#111"/>
<circle cx="325.3" cy="324.39" r="2.9" fill="#111"/>
<circle cx="325.3" cy="330.3" r="2.9" fill="#111"/>
<circle cx="366.1" cy="353.42" r="2.9" fill="#111"/>
<circle cx="366.1" cy="358.05" r="2.9" fill="#111"/>
<circle cx="406.9" cy="370.38" r="2.9" fill="#111"/>
<circle cx="406.9" cy="371.41" r="2.9" fill="#111"/>
<circle cx="447.7" cy="375.52" r="2.9" fill="#111"/>
<circle cx="447.7" cy="380.29" r="2.9" fill="#111"/>
<text x="435.6" y="264.2" font-family='"Liberation Sans", sans-serif' font-size="26.5" text-anchor="start" font-weight="bold" font-style="normal" fill="#111" textLength="17.6" lengthAdjust="spacingAndGlyphs" stroke="#111" stroke-width="0.5">e</text>
<text x="333.1" y="457.4" font-family='"Liberation Serif", serif' font-size="14.5" fill="#2a2a2a" textLength="65.7" lengthAdjust="spacingAndGlyphs">[ATA] μM</text>
<text transform="translate(239.7,364.8) rotate(-90)" font-family='"Liberation Sans", sans-serif' font-size="16.5" fill="#2a2a2a" textLength="64" lengthAdjust="spacingAndGlyphs"><tspan font-style="italic">K</tspan><tspan font-style="italic" font-size="13" dy="4.6">Mg</tspan><tspan dy="-4.6"> (mM)</tspan></text>
<rect x="501.5" y="244.3" width="180.2" height="179.8" fill="none" stroke="#1c1c1c" stroke-width="1.5"/>
<path d="M509.7 424.1V420.1M550.5 424.1V420.1M591.3 424.1V420.1M632.1 424.1V420.1M672.9 424.1V420.1M501.5 391.34H505.5M501.5 358.58H505.5M501.5 325.82H505.5M501.5 293.06H505.5M501.5 260.3H505.5" stroke="#1c1c1c" stroke-width="1.3" fill="none"/>
<text x="495.5" y="428.3" font-family='"Liberation Sans", sans-serif' font-size="11.8" text-anchor="end" font-weight="normal" font-style="normal" fill="#2a2a2a">0.0</text>
<text x="495.5" y="395.54" font-family='"Liberation Sans", sans-serif' font-size="11.8" text-anchor="end" font-weight="normal" font-style="normal" fill="#2a2a2a">0.3</text>
<text x="495.5" y="362.78" font-family='"Liberation Sans", sans-serif' font-size="11.8" text-anchor="end" font-weight="normal" font-style="normal" fill="#2a2a2a">0.6</text>
<text x="495.5" y="330.02" font-family='"Liberation Sans", sans-serif' font-size="11.8" text-anchor="end" font-weight="normal" font-style="normal" fill="#2a2a2a">0.9</text>
<text x="495.5" y="297.26" font-family='"Liberation Sans", sans-serif' font-size="11.8" text-anchor="end" font-weight="normal" font-style="normal" fill="#2a2a2a">1.2</text>
<text x="495.5" y="264.5" font-family='"Liberation Sans", sans-serif' font-size="11.8" text-anchor="end" font-weight="normal" font-style="normal" fill="#2a2a2a">1.5</text>
<text x="509.7" y="441.6" font-family='"Liberation Sans", sans-serif' font-size="11.8" text-anchor="middle" font-weight="normal" font-style="normal" fill="#2a2a2a">0.00</text>
<text x="550.5" y="441.6" font-family='"Liberation Sans", sans-serif' font-size="11.8" text-anchor="middle" font-weight="normal" font-style="normal" fill="#2a2a2a">0.05</text>
<text x="591.3" y="441.6" font-family='"Liberation Sans", sans-serif' font-size="11.8" text-anchor="middle" font-weight="normal" font-style="normal" fill="#2a2a2a">0.10</text>
<text x="632.1" y="441.6" font-family='"Liberation Sans", sans-serif' font-size="11.8" text-anchor="middle" font-weight="normal" font-style="normal" fill="#2a2a2a">0.15</text>
<text x="672.9" y="441.6" font-family='"Liberation Sans", sans-serif' font-size="11.8" text-anchor="middle" font-weight="normal" font-style="normal" fill="#2a2a2a">0.20</text>
<path d="M509.5 411.54V389.37M507 411.54H512M507 389.37H512" stroke="#8a8a8a" stroke-width="1.0" fill="none"/>
<path d="M530.5 420.5V380.42M528 420.5H533M528 380.42H533" stroke="#8a8a8a" stroke-width="1.0" fill="none"/>
<path d="M571.5 421.92V360.22M569 421.92H574M569 360.22H574" stroke="#8a8a8a" stroke-width="1.0" fill="none"/>
<path d="M591.5 402.26V385.33M589 402.26H594M589 385.33H594" stroke="#8a8a8a" stroke-width="1.0" fill="none"/>
<path d="M632.5 390.47V326.37M630 390.47H635M630 326.37H635M630 356.4H635" stroke="#8a8a8a" stroke-width="1.0" fill="none"/>
<path d="M673.5 344.71V265.98M671 344.71H676M671 265.98H676M671 310.53H676M671 333.46H676" stroke="#8a8a8a" stroke-width="1.0" fill="none"/>
<path d="M509.5 405.86V395.27M507.5 405.86H511.5M507.5 395.27H511.5" stroke="#333" stroke-width="0.8" fill="none"/>
<circle cx="509.7" cy="400.73" r="3.1" fill="#111"/>
<circle cx="530.1" cy="400.73" r="3.1" fill="#111"/>
<circle cx="530.1" cy="404.23" r="3.1" fill="#111"/>
<circle cx="570.9" cy="392" r="3.1" fill="#111"/>
<circle cx="570.9" cy="410.78" r="3.1" fill="#111"/>
<circle cx="570.9" cy="416.24" r="3.1" fill="#111"/>
<circle cx="591.3" cy="393.96" r="3.1" fill="#111"/>
<circle cx="591.3" cy="397.46" r="3.1" fill="#111"/>
<circle cx="591.3" cy="400.73" r="3.1" fill="#111"/>
<circle cx="632.1" cy="340.67" r="3.1" fill="#111"/>
<circle cx="632.1" cy="349.84" r="3.1" fill="#111"/>
<circle cx="632.1" cy="373.76" r="3.1" fill="#111"/>
<circle cx="672.9" cy="299.83" r="3.1" fill="#111"/>
<circle cx="672.9" cy="327.13" r="3.1" fill="#111"/>
<text x="663.6" y="269.8" font-family='"Liberation Sans", sans-serif' font-size="26.5" text-anchor="start" font-weight="bold" font-style="normal" fill="#111" textLength="11.4" lengthAdjust="spacingAndGlyphs" stroke="#111" stroke-width="0.5">f</text>
<text x="557" y="456.8" font-family='"Liberation Serif", serif' font-size="14.5" fill="#2a2a2a" textLength="76.2" lengthAdjust="spacingAndGlyphs">[ATA] (μM)</text>
<text transform="translate(472.9,367.1) rotate(-90)" font-family='"Liberation Sans", sans-serif' font-size="16.5" fill="#2a2a2a" textLength="66.3" lengthAdjust="spacingAndGlyphs"><tspan font-style="italic">K</tspan><tspan font-style="italic" font-size="13" dy="4.6">ATP</tspan><tspan dy="-4.6">(mM)</tspan></text>
<rect x="44" y="483.4" width="180" height="179.8" fill="none" stroke="#1c1c1c" stroke-width="1.5"/>
<path d="M51.9 663.2V659.2M92.85 663.2V659.2M133.8 663.2V659.2M174.75 663.2V659.2M215.7 663.2V659.2M44 633.1H48M44 603.1H48M44 573.1H48M44 543.1H48M44 513.1H48" stroke="#1c1c1c" stroke-width="1.3" fill="none"/>
<text x="38.2" y="667.3" font-family='"Liberation Sans", sans-serif' font-size="11.8" text-anchor="end" font-weight="normal" font-style="normal" fill="#2a2a2a">0</text>
<text x="38.2" y="637.3" font-family='"Liberation Sans", sans-serif' font-size="11.8" text-anchor="end" font-weight="normal" font-style="normal" fill="#2a2a2a">25</text>
<text x="38.2" y="607.3" font-family='"Liberation Sans", sans-serif' font-size="11.8" text-anchor="end" font-weight="normal" font-style="normal" fill="#2a2a2a">50</text>
<text x="38.2" y="577.3" font-family='"Liberation Sans", sans-serif' font-size="11.8" text-anchor="end" font-weight="normal" font-style="normal" fill="#2a2a2a">75</text>
<text x="38.2" y="547.3" font-family='"Liberation Sans", sans-serif' font-size="11.8" text-anchor="end" font-weight="normal" font-style="normal" fill="#2a2a2a">100</text>
<text x="38.2" y="517.3" font-family='"Liberation Sans", sans-serif' font-size="11.8" text-anchor="end" font-weight="normal" font-style="normal" fill="#2a2a2a">125</text>
<text x="38.2" y="487.3" font-family='"Liberation Sans", sans-serif' font-size="11.8" text-anchor="end" font-weight="normal" font-style="normal" fill="#2a2a2a">150</text>
<text x="51.9" y="680.6" font-family='"Liberation Sans", sans-serif' font-size="11.8" text-anchor="middle" font-weight="normal" font-style="normal" fill="#2a2a2a">0.00</text>
<text x="92.85" y="680.6" font-family='"Liberation Sans", sans-serif' font-size="11.8" text-anchor="middle" font-weight="normal" font-style="normal" fill="#2a2a2a">0.05</text>
<text x="133.8" y="680.6" font-family='"Liberation Sans", sans-serif' font-size="11.8" text-anchor="middle" font-weight="normal" font-style="normal" fill="#2a2a2a">0.10</text>
<text x="174.75" y="680.6" font-family='"Liberation Sans", sans-serif' font-size="11.8" text-anchor="middle" font-weight="normal" font-style="normal" fill="#2a2a2a">0.15</text>
<text x="215.7" y="680.6" font-family='"Liberation Sans", sans-serif' font-size="11.8" text-anchor="middle" font-weight="normal" font-style="normal" fill="#2a2a2a">0.20</text>
<path d="M52.5 540.82V517.06M50.2 540.82H54.8M50.2 517.06H54.8" stroke="#111" stroke-width="1.0" fill="none"/>
<path d="M72.5 546.82V530.26M70.2 546.82H74.8M70.2 530.26H74.8" stroke="#111" stroke-width="1.0" fill="none"/>
<path d="M113.5 576.82V565.54M111.2 576.82H115.8M111.2 565.54H115.8" stroke="#111" stroke-width="1.0" fill="none"/>
<path d="M174.5 651.94V626.38M172.2 651.94H176.8M172.2 626.38H176.8" stroke="#111" stroke-width="1.0" fill="none"/>
<path d="M215.5 645.82V639.34M213.2 645.82H217.8M213.2 639.34H217.8" stroke="#111" stroke-width="1.0" fill="none"/>
<circle cx="51.9" cy="525.58" r="3.2" fill="#111"/>
<circle cx="51.9" cy="528.34" r="3.2" fill="#111"/>
<circle cx="51.9" cy="535.18" r="3.2" fill="#111"/>
<circle cx="72.38" cy="546.82" r="3.2" fill="#111"/>
<circle cx="72.38" cy="562.66" r="3.2" fill="#111"/>
<circle cx="113.32" cy="576.82" r="3.2" fill="#111"/>
<circle cx="113.32" cy="584.14" r="3.2" fill="#111"/>
<circle cx="113.32" cy="586.18" r="3.2" fill="#111"/>
<circle cx="113.32" cy="588.58" r="3.2" fill="#111"/>
<circle cx="133.8" cy="603.34" r="3.2" fill="#111"/>
<circle cx="133.8" cy="614.14" r="3.2" fill="#111"/>
<circle cx="133.8" cy="621.34" r="3.2" fill="#111"/>
<circle cx="174.75" cy="631.9" r="3.2" fill="#111"/>
<circle cx="174.75" cy="643.42" r="3.2" fill="#111"/>
<circle cx="215.7" cy="645.82" r="3.2" fill="#111"/>
<circle cx="215.7" cy="651.34" r="3.2" fill="#111"/>
<text x="46" y="501.5" font-family='"Liberation Sans", sans-serif' font-size="26.5" text-anchor="start" font-weight="bold" font-style="normal" fill="#111" textLength="17.6" lengthAdjust="spacingAndGlyphs" stroke="#111" stroke-width="0.5">g</text>
<text x="102.5" y="697.9" font-family='"Liberation Sans", sans-serif' font-size="15" fill="#2a2a2a" textLength="73.4" lengthAdjust="spacingAndGlyphs">[ATA] (μM)</text>
<text transform="translate(18.6,601.3) rotate(-90)" font-family='"Liberation Sans", sans-serif' font-size="17.3" fill="#2a2a2a" textLength="60.2" lengthAdjust="spacingAndGlyphs"><tspan font-style="italic">V</tspan><tspan font-style="italic" font-size="13.5" dy="3.8">max</tspan><tspan dy="-3.8"> (%)</tspan></text>
<path d="M22 470.8h1.7" stroke="#ccc" stroke-width="1"/><path d="M26.4 470.8h4.6" stroke="#999" stroke-width="1"/><path d="M33.1 470.8h3.8" stroke="#666" stroke-width="1"/>
<rect x="135.7" y="488.2" width="84.8" height="84.4" fill="#fff" stroke="#1c1c1c" stroke-width="1.3"/>
<path d="M139.7 572.6V570.1M178.2 572.6V570.1M216.7 572.6V570.1M135.7 542.51H138.2M135.7 512.42H138.2" stroke="#1c1c1c" stroke-width="1.0" fill="none"/>
<text x="131" y="575.8" font-family='"Liberation Sans", sans-serif' font-size="9" text-anchor="end" font-weight="normal" font-style="normal" fill="#2a2a2a">0.0</text>
<text x="131" y="545.71" font-family='"Liberation Sans", sans-serif' font-size="9" text-anchor="end" font-weight="normal" font-style="normal" fill="#2a2a2a">0.3</text>
<text x="131" y="515.62" font-family='"Liberation Sans", sans-serif' font-size="9" text-anchor="end" font-weight="normal" font-style="normal" fill="#2a2a2a">0.6</text>
<text x="139.7" y="586.8" font-family='"Liberation Sans", sans-serif' font-size="9" text-anchor="middle" font-weight="normal" font-style="normal" fill="#2a2a2a">0.0</text>
<text x="178.2" y="586.8" font-family='"Liberation Sans", sans-serif' font-size="9" text-anchor="middle" font-weight="normal" font-style="normal" fill="#2a2a2a">0.1</text>
<text x="216.7" y="586.8" font-family='"Liberation Sans", sans-serif' font-size="9" text-anchor="middle" font-weight="normal" font-style="normal" fill="#2a2a2a">0.2</text>
<path d="M139.5 562.87V554.45M135.8 562.87H143.2M135.8 554.45H143.2" stroke="#111" stroke-width="1.0" fill="none"/>
<path d="M149.5 561.77V559.56M145.8 561.77H153.2M145.8 559.56H153.2" stroke="#111" stroke-width="1.0" fill="none"/>
<path d="M168.5 562.87V557.15M164.8 562.87H172.2M164.8 557.15H172.2" stroke="#111" stroke-width="1.0" fill="none"/>
<path d="M178.5 562.57V556.05M174.8 562.57H182.2M174.8 556.05H182.2" stroke="#111" stroke-width="1.0" fill="none"/>
<path d="M197.5 520.14V507.51M193.8 520.14H201.2M193.8 507.51H201.2" stroke="#111" stroke-width="1.0" fill="none"/>
<path d="M197.5 537.8V526.46M193.8 537.8H201.2M193.8 526.46H201.2" stroke="#111" stroke-width="1.0" fill="none"/>
<path d="M216.5 531.38V498.38M212.8 531.38H220.2M212.8 498.38H220.2M212.8 517.54H220.2" stroke="#111" stroke-width="1.0" fill="none"/>
<circle cx="139.7" cy="558.96" r="2.1" fill="#111"/>
<circle cx="149.32" cy="560.76" r="2.1" fill="#111"/>
<circle cx="168.57" cy="560.26" r="2.1" fill="#111"/>
<circle cx="178.2" cy="558.96" r="2.1" fill="#111"/>
<circle cx="197.45" cy="513.42" r="2.1" fill="#111"/>
<circle cx="197.45" cy="531.88" r="2.1" fill="#111"/>
<circle cx="216.7" cy="512.72" r="2.1" fill="#111"/>
<circle cx="216.7" cy="524.76" r="2.1" fill="#111"/>
<text x="161.5" y="599.6" font-family='"Liberation Sans", sans-serif' font-size="10.5" fill="#2a2a2a" textLength="43.4" lengthAdjust="spacingAndGlyphs">[ATA] μM</text>
<text transform="translate(110.8,554.0) rotate(-90)" font-family='"Liberation Sans", sans-serif' font-size="12" fill="#2a2a2a" textLength="44.2" lengthAdjust="spacingAndGlyphs"><tspan font-style="italic">K</tspan><tspan font-size="9" dy="2.6">Ca</tspan><tspan dy="-2.6">/ </tspan><tspan>V</tspan><tspan font-size="9" dy="2.6">max</tspan></text>
<rect x="278" y="487.1" width="180" height="179.5" fill="none" stroke="#1c1c1c" stroke-width="1.5"/>
<path d="M286.2 666.6V662.6M326.9 666.6V662.6M367.6 666.6V662.6M408.3 666.6V662.6M449 666.6V662.6M278 636.7H282M278 606.7H282M278 576.7H282M278 546.7H282M278 516.7H282" stroke="#1c1c1c" stroke-width="1.3" fill="none"/>
<text x="272" y="670.9" font-family='"Liberation Sans", sans-serif' font-size="11.8" text-anchor="end" font-weight="normal" font-style="normal" fill="#2a2a2a">0</text>
<text x="272" y="640.9" font-family='"Liberation Sans", sans-serif' font-size="11.8" text-anchor="end" font-weight="normal" font-style="normal" fill="#2a2a2a">25</text>
<text x="272" y="610.9" font-family='"Liberation Sans", sans-serif' font-size="11.8" text-anchor="end" font-weight="normal" font-style="normal" fill="#2a2a2a">50</text>
<text x="272" y="580.9" font-family='"Liberation Sans", sans-serif' font-size="11.8" text-anchor="end" font-weight="normal" font-style="normal" fill="#2a2a2a">75</text>
<text x="272" y="550.9" font-family='"Liberation Sans", sans-serif' font-size="11.8" text-anchor="end" font-weight="normal" font-style="normal" fill="#2a2a2a">100</text>
<text x="272" y="520.9" font-family='"Liberation Sans", sans-serif' font-size="11.8" text-anchor="end" font-weight="normal" font-style="normal" fill="#2a2a2a">125</text>
<text x="272" y="490.9" font-family='"Liberation Sans", sans-serif' font-size="11.8" text-anchor="end" font-weight="normal" font-style="normal" fill="#2a2a2a">150</text>
<text x="286.2" y="684.1" font-family='"Liberation Sans", sans-serif' font-size="11.8" text-anchor="middle" font-weight="normal" font-style="normal" fill="#2a2a2a">0.00</text>
<text x="326.9" y="684.1" font-family='"Liberation Sans", sans-serif' font-size="11.8" text-anchor="middle" font-weight="normal" font-style="normal" fill="#2a2a2a">0.05</text>
<text x="367.6" y="684.1" font-family='"Liberation Sans", sans-serif' font-size="11.8" text-anchor="middle" font-weight="normal" font-style="normal" fill="#2a2a2a">0.10</text>
<text x="408.3" y="684.1" font-family='"Liberation Sans", sans-serif' font-size="11.8" text-anchor="middle" font-weight="normal" font-style="normal" fill="#2a2a2a">0.15</text>
<text x="449" y="684.1" font-family='"Liberation Sans", sans-serif' font-size="11.8" text-anchor="middle" font-weight="normal" font-style="normal" fill="#2a2a2a">0.20</text>
<path d="M286.5 530.14V515.74M282.2 530.14H290.8M282.2 515.74H290.8M282.2 518.14H290.8M282.2 525.34H290.8" stroke="#111" stroke-width="1.5" fill="none"/>
<path d="M306.5 558.94V551.14M302.2 558.94H310.8M302.2 551.14H310.8" stroke="#111" stroke-width="1.5" fill="none"/>
<path d="M347.5 600.1V585.1M343.2 600.1H351.8M343.2 585.1H351.8M343.2 589.42H351.8M343.2 593.26H351.8M343.2 595.9H351.8" stroke="#111" stroke-width="1.5" fill="none"/>
<path d="M367.5 622.06V611.62M363.2 622.06H371.8M363.2 611.62H371.8M363.2 614.74H371.8M363.2 618.58H371.8" stroke="#111" stroke-width="1.5" fill="none"/>
<path d="M408.5 649.66V644.5M404.2 649.66H412.8M404.2 644.5H412.8" stroke="#111" stroke-width="1.5" fill="none"/>
<path d="M449.5 658.3V652.3M445.2 658.3H453.8M445.2 652.3H453.8" stroke="#111" stroke-width="1.5" fill="none"/>
<circle cx="286.2" cy="522.22" r="3.2" fill="#111"/>
<circle cx="286.2" cy="520.3" r="3.2" fill="#111"/>
<circle cx="286.2" cy="523.3" r="3.2" fill="#111"/>
<circle cx="306.55" cy="555.1" r="3.2" fill="#111"/>
<circle cx="306.55" cy="556.3" r="3.2" fill="#111"/>
<circle cx="347.25" cy="591.94" r="3.2" fill="#111"/>
<circle cx="347.25" cy="594.7" r="3.2" fill="#111"/>
<circle cx="347.25" cy="588.1" r="3.2" fill="#111"/>
<circle cx="347.25" cy="597.1" r="3.2" fill="#111"/>
<circle cx="367.6" cy="616.78" r="3.2" fill="#111"/>
<circle cx="367.6" cy="612.7" r="3.2" fill="#111"/>
<circle cx="367.6" cy="620.14" r="3.2" fill="#111"/>
<circle cx="408.3" cy="647.74" r="3.2" fill="#111"/>
<circle cx="408.3" cy="655.66" r="3.2" fill="#111"/>
<circle cx="449" cy="654.94" r="3.2" fill="#111"/>
<circle cx="449" cy="654.1" r="3.2" fill="#111"/>
<path d="M404.3 655.66L408.3 653.06L412.3 655.66L408.3 658.26Z" fill="#111"/>
<text x="280.8" y="510.9" font-family='"Liberation Sans", sans-serif' font-size="26.5" text-anchor="start" font-weight="bold" font-style="normal" fill="#111" textLength="17.3" lengthAdjust="spacingAndGlyphs" stroke="#111" stroke-width="0.5">h</text>
<text x="338.1" y="700.7" font-family='"Liberation Sans", sans-serif' font-size="15" fill="#2a2a2a" textLength="61.4" lengthAdjust="spacingAndGlyphs">[ATA] μM</text>
<rect x="368.6" y="491.3" width="85.3" height="84.5" fill="#fff" stroke="#1c1c1c" stroke-width="1.3"/>
<path d="M374.4 575.8V573.3M412.25 575.8V573.3M450.1 575.8V573.3M368.6 543.91H371.1M368.6 512.02H371.1" stroke="#1c1c1c" stroke-width="1.0" fill="none"/>
<text x="364.4" y="578.7" font-family='"Liberation Serif", serif' font-size="9" text-anchor="end" font-weight="normal" font-style="normal" fill="#555">0.0</text>
<text x="364.4" y="546.81" font-family='"Liberation Serif", serif' font-size="9" text-anchor="end" font-weight="normal" font-style="normal" fill="#555">0.3</text>
<text x="364.4" y="514.92" font-family='"Liberation Serif", serif' font-size="9" text-anchor="end" font-weight="normal" font-style="normal" fill="#555">0.6</text>
<text x="374.4" y="588.9" font-family='"Liberation Serif", serif' font-size="9" text-anchor="middle" font-weight="normal" font-style="normal" fill="#555">0.0</text>
<text x="412.25" y="588.9" font-family='"Liberation Serif", serif' font-size="9" text-anchor="middle" font-weight="normal" font-style="normal" fill="#555">0.1</text>
<text x="450.1" y="588.9" font-family='"Liberation Serif", serif' font-size="9" text-anchor="middle" font-weight="normal" font-style="normal" fill="#555">0.2</text>
<path d="M374.5 557.2V544.97M372.5 557.2H376.5M372.5 544.97H376.5" stroke="#111" stroke-width="0.9" fill="none"/>
<path d="M384.5 550.29V539.66M382.5 550.29H386.5M382.5 539.66H386.5" stroke="#111" stroke-width="0.9" fill="none"/>
<path d="M393.5 549.22V542.32M391.5 549.22H395.5M391.5 542.32H395.5" stroke="#111" stroke-width="0.9" fill="none"/>
<path d="M412.5 551.14V532.75M410.5 551.14H414.5M410.5 532.75H414.5" stroke="#111" stroke-width="0.9" fill="none"/>
<path d="M431.5 546.04V532.22M429.5 546.04H433.5M429.5 532.22H433.5" stroke="#111" stroke-width="0.9" fill="none"/>
<path d="M450.5 552.41V510.96M448.5 552.41H452.5M448.5 510.96H452.5M448.5 532.43H452.5" stroke="#111" stroke-width="0.9" fill="none"/>
<circle cx="374.4" cy="548.59" r="1.9" fill="#111"/>
<circle cx="374.4" cy="550.5" r="1.9" fill="#111"/>
<circle cx="383.86" cy="544.97" r="1.9" fill="#111"/>
<circle cx="393.32" cy="545.4" r="1.9" fill="#111"/>
<circle cx="393.32" cy="552.1" r="1.9" fill="#111"/>
<circle cx="412.25" cy="539.98" r="1.9" fill="#111"/>
<circle cx="412.25" cy="547.1" r="1.9" fill="#111"/>
<circle cx="431.17" cy="538.7" r="1.9" fill="#111"/>
<circle cx="431.17" cy="541.89" r="1.9" fill="#111"/>
<circle cx="450.1" cy="521.8" r="1.9" fill="#111"/>
<circle cx="450.1" cy="538.06" r="1.9" fill="#111"/>
<text x="393.9" y="602.8" font-family='"Liberation Sans", sans-serif' font-size="10.5" fill="#2a2a2a" textLength="42.5" lengthAdjust="spacingAndGlyphs">[ATA] μM</text>
<text transform="translate(347.0,546.8) rotate(-90)" font-family='"Liberation Serif", serif' font-size="11" fill="#333" textLength="38.2" lengthAdjust="spacingAndGlyphs"><tspan font-style="italic">K</tspan><tspan font-style="italic" font-size="7.5" dy="2.3">Mg</tspan><tspan dy="-2.3">/ </tspan><tspan font-style="italic">V</tspan><tspan font-style="italic" font-size="7.5" dy="2.3">max</tspan></text>
<rect x="501.9" y="487.5" width="179.5" height="179.7" fill="none" stroke="#1c1c1c" stroke-width="1.5"/>
<path d="M509.9 667.2V663.2M550.65 667.2V663.2M591.4 667.2V663.2M632.15 667.2V663.2M672.9 667.2V663.2M501.9 637.4H505.9M501.9 607.4H505.9M501.9 577.4H505.9M501.9 547.4H505.9M501.9 517.4H505.9" stroke="#1c1c1c" stroke-width="1.3" fill="none"/>
<text x="495.6" y="671.6" font-family='"Liberation Sans", sans-serif' font-size="11.8" text-anchor="end" font-weight="normal" font-style="normal" fill="#2a2a2a">0</text>
<text x="495.6" y="641.6" font-family='"Liberation Sans", sans-serif' font-size="11.8" text-anchor="end" font-weight="normal" font-style="normal" fill="#2a2a2a">25</text>
<text x="495.6" y="611.6" font-family='"Liberation Sans", sans-serif' font-size="11.8" text-anchor="end" font-weight="normal" font-style="normal" fill="#2a2a2a">50</text>
<text x="495.6" y="581.6" font-family='"Liberation Sans", sans-serif' font-size="11.8" text-anchor="end" font-weight="normal" font-style="normal" fill="#2a2a2a">75</text>
<text x="495.6" y="551.6" font-family='"Liberation Sans", sans-serif' font-size="11.8" text-anchor="end" font-weight="normal" font-style="normal" fill="#2a2a2a">100</text>
<text x="495.6" y="521.6" font-family='"Liberation Sans", sans-serif' font-size="11.8" text-anchor="end" font-weight="normal" font-style="normal" fill="#2a2a2a">125</text>
<text x="495.6" y="491.6" font-family='"Liberation Sans", sans-serif' font-size="11.8" text-anchor="end" font-weight="normal" font-style="normal" fill="#2a2a2a">150</text>
<text x="509.9" y="684.6" font-family='"Liberation Sans", sans-serif' font-size="11.8" text-anchor="middle" font-weight="normal" font-style="normal" fill="#2a2a2a">0.00</text>
<text x="550.65" y="684.6" font-family='"Liberation Sans", sans-serif' font-size="11.8" text-anchor="middle" font-weight="normal" font-style="normal" fill="#2a2a2a">0.05</text>
<text x="591.4" y="684.6" font-family='"Liberation Sans", sans-serif' font-size="11.8" text-anchor="middle" font-weight="normal" font-style="normal" fill="#2a2a2a">0.10</text>
<text x="632.15" y="684.6" font-family='"Liberation Sans", sans-serif' font-size="11.8" text-anchor="middle" font-weight="normal" font-style="normal" fill="#2a2a2a">0.15</text>
<text x="672.9" y="684.6" font-family='"Liberation Sans", sans-serif' font-size="11.8" text-anchor="middle" font-weight="normal" font-style="normal" fill="#2a2a2a">0.20</text>
<path d="M510.5 543.68V520.16M506.2 543.68H514.8M506.2 520.16H514.8M506.2 528.68H514.8M506.2 539.96H514.8" stroke="#111" stroke-width="1.2" fill="none"/>
<path d="M530.5 575.24V566.36M526.2 575.24H534.8M526.2 566.36H534.8" stroke="#111" stroke-width="1.2" fill="none"/>
<path d="M550.5 576.92V566.72M546.2 576.92H554.8M546.2 566.72H554.8" stroke="#111" stroke-width="1.2" fill="none"/>
<path d="M550.5 591.32V584M546.2 591.32H554.8M546.2 584H554.8" stroke="#111" stroke-width="1.2" fill="none"/>
<path d="M591.5 613.16V601.76M587.2 613.16H595.8M587.2 601.76H595.8" stroke="#111" stroke-width="1.2" fill="none"/>
<path d="M591.5 629.24V615.44M587.2 629.24H595.8M587.2 615.44H595.8" stroke="#111" stroke-width="1.2" fill="none"/>
<path d="M632.5 633.8V622.16M628.2 633.8H636.8M628.2 622.16H636.8" stroke="#111" stroke-width="1.2" fill="none"/>
<path d="M673.5 647V632.96M669.2 647H677.8M669.2 632.96H677.8" stroke="#111" stroke-width="1.2" fill="none"/>
<circle cx="509.9" cy="533.84" r="3.3" fill="#111"/>
<circle cx="509.9" cy="531.8" r="3.3" fill="#111"/>
<circle cx="509.9" cy="536" r="3.3" fill="#111"/>
<circle cx="530.27" cy="570.68" r="3.3" fill="#111"/>
<circle cx="550.65" cy="572.12" r="3.3" fill="#111"/>
<circle cx="550.65" cy="587.96" r="3.3" fill="#111"/>
<circle cx="591.4" cy="607.76" r="3.3" fill="#111"/>
<circle cx="591.4" cy="622.52" r="3.3" fill="#111"/>
<circle cx="632.15" cy="627.92" r="3.3" fill="#111"/>
<circle cx="632.15" cy="632.48" r="3.3" fill="#111"/>
<circle cx="672.9" cy="640.04" r="3.3" fill="#111"/>
<circle cx="672.9" cy="645.68" r="3.3" fill="#111"/>
<ellipse cx="509.9" cy="533.84" rx="3.6" ry="4.8" fill="#111"/>
<text x="505.3" y="509.7" font-family='"Liberation Sans", sans-serif' font-size="26.5" text-anchor="start" font-weight="bold" font-style="normal" fill="#111" stroke="#111" stroke-width="0.5">i</text>
<text x="560.9" y="701.6" font-family='"Liberation Sans", sans-serif' font-size="15" fill="#2a2a2a" textLength="61.8" lengthAdjust="spacingAndGlyphs">[ATA] μM</text>
<rect x="592.4" y="491.4" width="84.9" height="84.6" fill="#fff" stroke="#1c1c1c" stroke-width="1.3"/>
<path d="M596 576V573.5M634.75 576V573.5M673.5 576V573.5M592.4 573.75H594.9M592.4 549.3H594.9M592.4 524.85H594.9M592.4 500.4H594.9" stroke="#1c1c1c" stroke-width="1.0" fill="none"/>
<text x="587.7" y="576.75" font-family='"Liberation Sans", sans-serif' font-size="8.6" text-anchor="end" font-weight="normal" font-style="normal" fill="#2a2a2a">0</text>
<text x="587.7" y="552.3" font-family='"Liberation Sans", sans-serif' font-size="8.6" text-anchor="end" font-weight="normal" font-style="normal" fill="#2a2a2a">5</text>
<text x="587.7" y="527.85" font-family='"Liberation Sans", sans-serif' font-size="8.6" text-anchor="end" font-weight="normal" font-style="normal" fill="#2a2a2a">10</text>
<text x="587.7" y="503.4" font-family='"Liberation Sans", sans-serif' font-size="8.6" text-anchor="end" font-weight="normal" font-style="normal" fill="#2a2a2a">15</text>
<text x="596" y="588.7" font-family='"Liberation Serif", serif' font-size="9" text-anchor="middle" font-weight="normal" font-style="normal" fill="#555">0.0</text>
<text x="634.75" y="588.7" font-family='"Liberation Serif", serif' font-size="9" text-anchor="middle" font-weight="normal" font-style="normal" fill="#555">0.1</text>
<text x="673.5" y="588.7" font-family='"Liberation Serif", serif' font-size="9" text-anchor="middle" font-weight="normal" font-style="normal" fill="#555">0.2</text>
<path d="M654.5 571.3V547.83M652.7 571.3H656.3M652.7 547.83H656.3" stroke="#8a8a8a" stroke-width="0.9" fill="none"/>
<path d="M673.5 549.3V494.53M671.7 549.3H675.3M671.7 494.53H675.3M671.7 538.54H675.3" stroke="#8a8a8a" stroke-width="0.9" fill="none"/>
<circle cx="596" cy="572.63" r="2.0" fill="#111"/>
<circle cx="605.69" cy="572.77" r="2.0" fill="#111"/>
<circle cx="625.06" cy="572.04" r="2.0" fill="#111"/>
<circle cx="625.06" cy="572.77" r="2.0" fill="#111"/>
<circle cx="634.75" cy="570.91" r="2.0" fill="#111"/>
<circle cx="634.75" cy="571.55" r="2.0" fill="#111"/>
<circle cx="654.12" cy="550.77" r="2.0" fill="#111"/>
<circle cx="654.12" cy="560.74" r="2.0" fill="#111"/>
<circle cx="673.5" cy="516.05" r="2.0" fill="#111"/>
<circle cx="673.5" cy="544.12" r="2.0" fill="#111"/>
<text x="617.8" y="601.6" font-family='"Liberation Sans", sans-serif' font-size="10.3" fill="#2a2a2a" textLength="50.4" lengthAdjust="spacingAndGlyphs">[ATA] (μM)</text>
<text transform="translate(570.6,547.5) rotate(-90)" font-family='"Liberation Sans", sans-serif' font-size="10.8" fill="#2a2a2a" textLength="43.1" lengthAdjust="spacingAndGlyphs"><tspan font-style="italic">K</tspan><tspan font-style="italic" font-size="7.5" dy="2.4">ATP</tspan><tspan dy="-2.4">/</tspan><tspan font-style="italic">V</tspan><tspan font-style="italic" font-size="7.5" dy="2.4">max</tspan></text>
</svg>
</body></html>
